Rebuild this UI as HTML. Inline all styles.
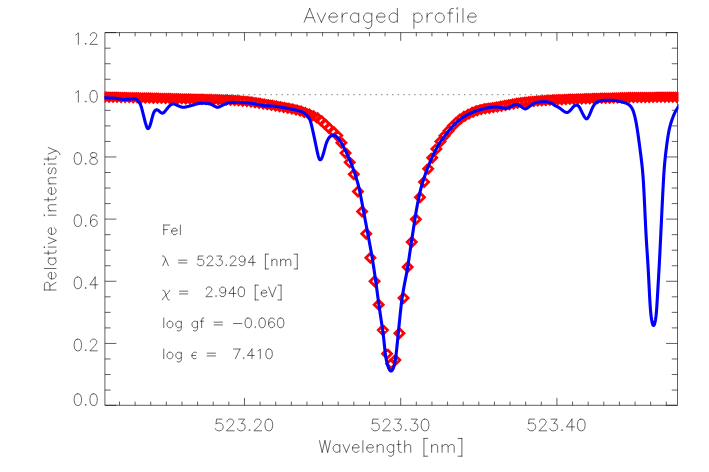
<!DOCTYPE html>
<html><head><meta charset="utf-8"><title>Averaged profile</title>
<style>
html,body{margin:0;padding:0;background:#fff;font-family:"Liberation Sans",sans-serif;}
svg{display:block;position:absolute;left:0;top:0;}
</style></head><body>
<svg width="709" height="472" viewBox="0 0 709 472">
<rect width="709" height="472" fill="#fff"/>
<defs><clipPath id="c"><rect x="104.4" y="32" width="574.1" height="374"/></clipPath></defs>
<g fill="none" stroke="#000" stroke-width="0.8" stroke-opacity="0.78" stroke-linecap="butt" stroke-linejoin="miter">
<path d="M104.90 32.60 H677.50 V405.30 H104.90 Z"/>
<path d="M119.47 405.30 v-3.73 M119.47 32.60 v3.73 M135.10 405.30 v-3.73 M135.10 32.60 v3.73 M150.72 405.30 v-3.73 M150.72 32.60 v3.73 M166.34 405.30 v-3.73 M166.34 32.60 v3.73 M181.97 405.30 v-3.73 M181.97 32.60 v3.73 M197.59 405.30 v-3.73 M197.59 32.60 v3.73 M213.21 405.30 v-3.73 M213.21 32.60 v3.73 M228.84 405.30 v-3.73 M228.84 32.60 v3.73 M244.46 405.30 v-7.45 M244.46 32.60 v8.20 M260.08 405.30 v-3.73 M260.08 32.60 v3.73 M275.71 405.30 v-3.73 M275.71 32.60 v3.73 M291.33 405.30 v-3.73 M291.33 32.60 v3.73 M306.95 405.30 v-3.73 M306.95 32.60 v3.73 M322.58 405.30 v-3.73 M322.58 32.60 v3.73 M338.20 405.30 v-3.73 M338.20 32.60 v3.73 M353.82 405.30 v-3.73 M353.82 32.60 v3.73 M369.45 405.30 v-3.73 M369.45 32.60 v3.73 M385.07 405.30 v-3.73 M385.07 32.60 v3.73 M400.69 405.30 v-7.45 M400.69 32.60 v8.20 M416.32 405.30 v-3.73 M416.32 32.60 v3.73 M431.94 405.30 v-3.73 M431.94 32.60 v3.73 M447.57 405.30 v-3.73 M447.57 32.60 v3.73 M463.19 405.30 v-3.73 M463.19 32.60 v3.73 M478.81 405.30 v-3.73 M478.81 32.60 v3.73 M494.44 405.30 v-3.73 M494.44 32.60 v3.73 M510.06 405.30 v-3.73 M510.06 32.60 v3.73 M525.68 405.30 v-3.73 M525.68 32.60 v3.73 M541.31 405.30 v-3.73 M541.31 32.60 v3.73 M556.93 405.30 v-7.45 M556.93 32.60 v8.20 M572.55 405.30 v-3.73 M572.55 32.60 v3.73 M588.18 405.30 v-3.73 M588.18 32.60 v3.73 M603.80 405.30 v-3.73 M603.80 32.60 v3.73 M619.42 405.30 v-3.73 M619.42 32.60 v3.73 M635.05 405.30 v-3.73 M635.05 32.60 v3.73 M650.67 405.30 v-3.73 M650.67 32.60 v3.73 M666.29 405.30 v-3.73 M666.29 32.60 v3.73 M104.90 390.06 h5.72 M677.50 390.06 h-5.72 M104.90 374.52 h5.72 M677.50 374.52 h-5.72 M104.90 358.98 h5.72 M677.50 358.98 h-5.72 M104.90 343.44 h11.45 M677.50 343.44 h-11.45 M104.90 327.90 h5.72 M677.50 327.90 h-5.72 M104.90 312.36 h5.72 M677.50 312.36 h-5.72 M104.90 296.82 h5.72 M677.50 296.82 h-5.72 M104.90 281.28 h11.45 M677.50 281.28 h-11.45 M104.90 265.74 h5.72 M677.50 265.74 h-5.72 M104.90 250.20 h5.72 M677.50 250.20 h-5.72 M104.90 234.66 h5.72 M677.50 234.66 h-5.72 M104.90 219.12 h11.45 M677.50 219.12 h-11.45 M104.90 203.58 h5.72 M677.50 203.58 h-5.72 M104.90 188.04 h5.72 M677.50 188.04 h-5.72 M104.90 172.50 h5.72 M677.50 172.50 h-5.72 M104.90 156.96 h11.45 M677.50 156.96 h-11.45 M104.90 141.42 h5.72 M677.50 141.42 h-5.72 M104.90 125.88 h5.72 M677.50 125.88 h-5.72 M104.90 110.34 h5.72 M677.50 110.34 h-5.72 M104.90 94.80 h11.45 M677.50 94.80 h-11.45 M104.90 79.26 h5.72 M677.50 79.26 h-5.72 M104.90 63.72 h5.72 M677.50 63.72 h-5.72 M104.90 48.18 h5.72 M677.50 48.18 h-5.72 M104.90 32.60 h11.45 M677.50 32.60 h-11.45 M104.90 405.30 h11.45 M677.50 405.30 h-11.45"/>
</g>
<path d="M104.5 94.70 H677.5" fill="none" stroke="#000" stroke-opacity="0.55" stroke-width="0.9" stroke-dasharray="1.5 4.03"/>
<g clip-path="url(#c)" fill="none">
<path d="M105.10 92.10 l4.50 4.50 l-4.50 4.50 l-4.50 -4.50 l4.50 -4.50 M109.11 92.19 l4.50 4.50 l-4.50 4.50 l-4.50 -4.50 l4.50 -4.50 M113.13 92.28 l4.50 4.50 l-4.50 4.50 l-4.50 -4.50 l4.50 -4.50 M117.15 92.36 l4.50 4.50 l-4.50 4.50 l-4.50 -4.50 l4.50 -4.50 M121.17 92.45 l4.50 4.50 l-4.50 4.50 l-4.50 -4.50 l4.50 -4.50 M125.19 92.54 l4.50 4.50 l-4.50 4.50 l-4.50 -4.50 l4.50 -4.50 M129.21 92.63 l4.50 4.50 l-4.50 4.50 l-4.50 -4.50 l4.50 -4.50 M133.24 92.72 l4.50 4.50 l-4.50 4.50 l-4.50 -4.50 l4.50 -4.50 M137.27 92.81 l4.50 4.50 l-4.50 4.50 l-4.50 -4.50 l4.50 -4.50 M141.30 92.91 l4.50 4.50 l-4.50 4.50 l-4.50 -4.50 l4.50 -4.50 M145.33 93.00 l4.50 4.50 l-4.50 4.50 l-4.50 -4.50 l4.50 -4.50 M149.36 93.10 l4.50 4.50 l-4.50 4.50 l-4.50 -4.50 l4.50 -4.50 M153.40 93.19 l4.50 4.50 l-4.50 4.50 l-4.50 -4.50 l4.50 -4.50 M157.44 93.29 l4.50 4.50 l-4.50 4.50 l-4.50 -4.50 l4.50 -4.50 M161.48 93.39 l4.50 4.50 l-4.50 4.50 l-4.50 -4.50 l4.50 -4.50 M165.52 93.49 l4.50 4.50 l-4.50 4.50 l-4.50 -4.50 l4.50 -4.50 M169.57 93.59 l4.50 4.50 l-4.50 4.50 l-4.50 -4.50 l4.50 -4.50 M173.62 93.69 l4.50 4.50 l-4.50 4.50 l-4.50 -4.50 l4.50 -4.50 M177.67 93.78 l4.50 4.50 l-4.50 4.50 l-4.50 -4.50 l4.50 -4.50 M181.72 93.87 l4.50 4.50 l-4.50 4.50 l-4.50 -4.50 l4.50 -4.50 M185.77 93.95 l4.50 4.50 l-4.50 4.50 l-4.50 -4.50 l4.50 -4.50 M189.83 94.04 l4.50 4.50 l-4.50 4.50 l-4.50 -4.50 l4.50 -4.50 M193.89 94.13 l4.50 4.50 l-4.50 4.50 l-4.50 -4.50 l4.50 -4.50 M197.95 94.21 l4.50 4.50 l-4.50 4.50 l-4.50 -4.50 l4.50 -4.50 M202.01 94.31 l4.50 4.50 l-4.50 4.50 l-4.50 -4.50 l4.50 -4.50 M206.07 94.41 l4.50 4.50 l-4.50 4.50 l-4.50 -4.50 l4.50 -4.50 M210.14 94.51 l4.50 4.50 l-4.50 4.50 l-4.50 -4.50 l4.50 -4.50 M214.21 94.63 l4.50 4.50 l-4.50 4.50 l-4.50 -4.50 l4.50 -4.50 M218.28 94.76 l4.50 4.50 l-4.50 4.50 l-4.50 -4.50 l4.50 -4.50 M222.35 94.90 l4.50 4.50 l-4.50 4.50 l-4.50 -4.50 l4.50 -4.50 M226.43 95.06 l4.50 4.50 l-4.50 4.50 l-4.50 -4.50 l4.50 -4.50 M230.51 95.23 l4.50 4.50 l-4.50 4.50 l-4.50 -4.50 l4.50 -4.50 M234.59 95.45 l4.50 4.50 l-4.50 4.50 l-4.50 -4.50 l4.50 -4.50 M238.67 95.76 l4.50 4.50 l-4.50 4.50 l-4.50 -4.50 l4.50 -4.50 M242.75 96.15 l4.50 4.50 l-4.50 4.50 l-4.50 -4.50 l4.50 -4.50 M246.84 96.58 l4.50 4.50 l-4.50 4.50 l-4.50 -4.50 l4.50 -4.50 M250.93 97.08 l4.50 4.50 l-4.50 4.50 l-4.50 -4.50 l4.50 -4.50 M255.02 97.67 l4.50 4.50 l-4.50 4.50 l-4.50 -4.50 l4.50 -4.50 M259.11 98.31 l4.50 4.50 l-4.50 4.50 l-4.50 -4.50 l4.50 -4.50 M263.20 98.97 l4.50 4.50 l-4.50 4.50 l-4.50 -4.50 l4.50 -4.50 M267.30 99.63 l4.50 4.50 l-4.50 4.50 l-4.50 -4.50 l4.50 -4.50 M271.40 100.30 l4.50 4.50 l-4.50 4.50 l-4.50 -4.50 l4.50 -4.50 M275.50 101.01 l4.50 4.50 l-4.50 4.50 l-4.50 -4.50 l4.50 -4.50 M279.60 101.74 l4.50 4.50 l-4.50 4.50 l-4.50 -4.50 l4.50 -4.50 M283.71 102.50 l4.50 4.50 l-4.50 4.50 l-4.50 -4.50 l4.50 -4.50 M287.82 103.25 l4.50 4.50 l-4.50 4.50 l-4.50 -4.50 l4.50 -4.50 M291.93 104.06 l4.50 4.50 l-4.50 4.50 l-4.50 -4.50 l4.50 -4.50 M296.04 104.99 l4.50 4.50 l-4.50 4.50 l-4.50 -4.50 l4.50 -4.50 M300.15 106.10 l4.50 4.50 l-4.50 4.50 l-4.50 -4.50 l4.50 -4.50 M304.27 107.40 l4.50 4.50 l-4.50 4.50 l-4.50 -4.50 l4.50 -4.50 M308.39 108.92 l4.50 4.50 l-4.50 4.50 l-4.50 -4.50 l4.50 -4.50 M312.51 110.72 l4.50 4.50 l-4.50 4.50 l-4.50 -4.50 l4.50 -4.50 M316.63 112.82 l4.50 4.50 l-4.50 4.50 l-4.50 -4.50 l4.50 -4.50 M320.75 115.71 l4.50 4.50 l-4.50 4.50 l-4.50 -4.50 l4.50 -4.50 M324.88 119.61 l4.50 4.50 l-4.50 4.50 l-4.50 -4.50 l4.50 -4.50 M329.01 123.41 l4.50 4.50 l-4.50 4.50 l-4.50 -4.50 l4.50 -4.50 M333.14 127.11 l4.50 4.50 l-4.50 4.50 l-4.50 -4.50 l4.50 -4.50 M337.27 131.12 l4.50 4.50 l-4.50 4.50 l-4.50 -4.50 l4.50 -4.50 M341.41 138.18 l4.50 4.50 l-4.50 4.50 l-4.50 -4.50 l4.50 -4.50 M345.55 148.58 l4.50 4.50 l-4.50 4.50 l-4.50 -4.50 l4.50 -4.50 M349.69 157.87 l4.50 4.50 l-4.50 4.50 l-4.50 -4.50 l4.50 -4.50 M353.83 169.68 l4.50 4.50 l-4.50 4.50 l-4.50 -4.50 l4.50 -4.50 M357.97 186.91 l4.50 4.50 l-4.50 4.50 l-4.50 -4.50 l4.50 -4.50 M362.12 206.99 l4.50 4.50 l-4.50 4.50 l-4.50 -4.50 l4.50 -4.50 M366.27 229.26 l4.50 4.50 l-4.50 4.50 l-4.50 -4.50 l4.50 -4.50 M370.42 253.24 l4.50 4.50 l-4.50 4.50 l-4.50 -4.50 l4.50 -4.50 M374.57 276.79 l4.50 4.50 l-4.50 4.50 l-4.50 -4.50 l4.50 -4.50 M378.72 300.14 l4.50 4.50 l-4.50 4.50 l-4.50 -4.50 l4.50 -4.50 M382.88 325.58 l4.50 4.50 l-4.50 4.50 l-4.50 -4.50 l4.50 -4.50 M387.04 349.24 l4.50 4.50 l-4.50 4.50 l-4.50 -4.50 l4.50 -4.50 M391.20 359.30 l4.50 4.50 l-4.50 4.50 l-4.50 -4.50 l4.50 -4.50 M395.32 355.59 l4.50 4.50 l-4.50 4.50 l-4.50 -4.50 l4.50 -4.50 M399.44 328.65 l4.50 4.50 l-4.50 4.50 l-4.50 -4.50 l4.50 -4.50 M403.55 293.49 l4.50 4.50 l-4.50 4.50 l-4.50 -4.50 l4.50 -4.50 M407.66 262.45 l4.50 4.50 l-4.50 4.50 l-4.50 -4.50 l4.50 -4.50 M411.77 237.58 l4.50 4.50 l-4.50 4.50 l-4.50 -4.50 l4.50 -4.50 M415.87 214.69 l4.50 4.50 l-4.50 4.50 l-4.50 -4.50 l4.50 -4.50 M419.98 192.78 l4.50 4.50 l-4.50 4.50 l-4.50 -4.50 l4.50 -4.50 M424.08 177.53 l4.50 4.50 l-4.50 4.50 l-4.50 -4.50 l4.50 -4.50 M428.17 164.18 l4.50 4.50 l-4.50 4.50 l-4.50 -4.50 l4.50 -4.50 M432.27 153.20 l4.50 4.50 l-4.50 4.50 l-4.50 -4.50 l4.50 -4.50 M436.36 144.38 l4.50 4.50 l-4.50 4.50 l-4.50 -4.50 l4.50 -4.50 M440.45 136.94 l4.50 4.50 l-4.50 4.50 l-4.50 -4.50 l4.50 -4.50 M444.53 131.15 l4.50 4.50 l-4.50 4.50 l-4.50 -4.50 l4.50 -4.50 M448.62 126.20 l4.50 4.50 l-4.50 4.50 l-4.50 -4.50 l4.50 -4.50 M452.70 121.47 l4.50 4.50 l-4.50 4.50 l-4.50 -4.50 l4.50 -4.50 M456.77 117.43 l4.50 4.50 l-4.50 4.50 l-4.50 -4.50 l4.50 -4.50 M460.85 114.06 l4.50 4.50 l-4.50 4.50 l-4.50 -4.50 l4.50 -4.50 M464.92 111.31 l4.50 4.50 l-4.50 4.50 l-4.50 -4.50 l4.50 -4.50 M468.99 109.13 l4.50 4.50 l-4.50 4.50 l-4.50 -4.50 l4.50 -4.50 M473.06 107.34 l4.50 4.50 l-4.50 4.50 l-4.50 -4.50 l4.50 -4.50 M477.12 105.86 l4.50 4.50 l-4.50 4.50 l-4.50 -4.50 l4.50 -4.50 M481.18 104.62 l4.50 4.50 l-4.50 4.50 l-4.50 -4.50 l4.50 -4.50 M485.24 103.82 l4.50 4.50 l-4.50 4.50 l-4.50 -4.50 l4.50 -4.50 M489.29 103.21 l4.50 4.50 l-4.50 4.50 l-4.50 -4.50 l4.50 -4.50 M493.34 102.63 l4.50 4.50 l-4.50 4.50 l-4.50 -4.50 l4.50 -4.50 M497.39 102.07 l4.50 4.50 l-4.50 4.50 l-4.50 -4.50 l4.50 -4.50 M501.44 101.26 l4.50 4.50 l-4.50 4.50 l-4.50 -4.50 l4.50 -4.50 M505.48 100.42 l4.50 4.50 l-4.50 4.50 l-4.50 -4.50 l4.50 -4.50 M509.52 99.65 l4.50 4.50 l-4.50 4.50 l-4.50 -4.50 l4.50 -4.50 M513.56 98.94 l4.50 4.50 l-4.50 4.50 l-4.50 -4.50 l4.50 -4.50 M517.60 98.27 l4.50 4.50 l-4.50 4.50 l-4.50 -4.50 l4.50 -4.50 M521.63 97.64 l4.50 4.50 l-4.50 4.50 l-4.50 -4.50 l4.50 -4.50 M525.66 97.14 l4.50 4.50 l-4.50 4.50 l-4.50 -4.50 l4.50 -4.50 M529.69 96.75 l4.50 4.50 l-4.50 4.50 l-4.50 -4.50 l4.50 -4.50 M533.71 96.41 l4.50 4.50 l-4.50 4.50 l-4.50 -4.50 l4.50 -4.50 M537.73 96.10 l4.50 4.50 l-4.50 4.50 l-4.50 -4.50 l4.50 -4.50 M541.75 95.80 l4.50 4.50 l-4.50 4.50 l-4.50 -4.50 l4.50 -4.50 M545.77 95.52 l4.50 4.50 l-4.50 4.50 l-4.50 -4.50 l4.50 -4.50 M549.78 95.28 l4.50 4.50 l-4.50 4.50 l-4.50 -4.50 l4.50 -4.50 M553.79 95.05 l4.50 4.50 l-4.50 4.50 l-4.50 -4.50 l4.50 -4.50 M557.79 94.86 l4.50 4.50 l-4.50 4.50 l-4.50 -4.50 l4.50 -4.50 M561.80 94.68 l4.50 4.50 l-4.50 4.50 l-4.50 -4.50 l4.50 -4.50 M565.80 94.51 l4.50 4.50 l-4.50 4.50 l-4.50 -4.50 l4.50 -4.50 M569.80 94.36 l4.50 4.50 l-4.50 4.50 l-4.50 -4.50 l4.50 -4.50 M573.79 94.21 l4.50 4.50 l-4.50 4.50 l-4.50 -4.50 l4.50 -4.50 M577.79 94.07 l4.50 4.50 l-4.50 4.50 l-4.50 -4.50 l4.50 -4.50 M581.78 93.94 l4.50 4.50 l-4.50 4.50 l-4.50 -4.50 l4.50 -4.50 M585.77 93.81 l4.50 4.50 l-4.50 4.50 l-4.50 -4.50 l4.50 -4.50 M589.75 93.68 l4.50 4.50 l-4.50 4.50 l-4.50 -4.50 l4.50 -4.50 M593.73 93.56 l4.50 4.50 l-4.50 4.50 l-4.50 -4.50 l4.50 -4.50 M597.71 93.46 l4.50 4.50 l-4.50 4.50 l-4.50 -4.50 l4.50 -4.50 M601.69 93.36 l4.50 4.50 l-4.50 4.50 l-4.50 -4.50 l4.50 -4.50 M605.66 93.29 l4.50 4.50 l-4.50 4.50 l-4.50 -4.50 l4.50 -4.50 M609.63 93.21 l4.50 4.50 l-4.50 4.50 l-4.50 -4.50 l4.50 -4.50 M613.60 93.09 l4.50 4.50 l-4.50 4.50 l-4.50 -4.50 l4.50 -4.50 M617.56 92.95 l4.50 4.50 l-4.50 4.50 l-4.50 -4.50 l4.50 -4.50 M621.53 92.80 l4.50 4.50 l-4.50 4.50 l-4.50 -4.50 l4.50 -4.50 M625.48 92.67 l4.50 4.50 l-4.50 4.50 l-4.50 -4.50 l4.50 -4.50 M629.44 92.59 l4.50 4.50 l-4.50 4.50 l-4.50 -4.50 l4.50 -4.50 M633.40 92.54 l4.50 4.50 l-4.50 4.50 l-4.50 -4.50 l4.50 -4.50 M637.35 92.50 l4.50 4.50 l-4.50 4.50 l-4.50 -4.50 l4.50 -4.50 M641.29 92.46 l4.50 4.50 l-4.50 4.50 l-4.50 -4.50 l4.50 -4.50 M645.24 92.43 l4.50 4.50 l-4.50 4.50 l-4.50 -4.50 l4.50 -4.50 M649.18 92.41 l4.50 4.50 l-4.50 4.50 l-4.50 -4.50 l4.50 -4.50 M653.12 92.38 l4.50 4.50 l-4.50 4.50 l-4.50 -4.50 l4.50 -4.50 M657.06 92.36 l4.50 4.50 l-4.50 4.50 l-4.50 -4.50 l4.50 -4.50 M660.99 92.35 l4.50 4.50 l-4.50 4.50 l-4.50 -4.50 l4.50 -4.50 M664.92 92.33 l4.50 4.50 l-4.50 4.50 l-4.50 -4.50 l4.50 -4.50 M668.85 92.32 l4.50 4.50 l-4.50 4.50 l-4.50 -4.50 l4.50 -4.50 M672.78 92.30 l4.50 4.50 l-4.50 4.50 l-4.50 -4.50 l4.50 -4.50 M676.70 92.30 l4.50 4.50 l-4.50 4.50 l-4.50 -4.50 l4.50 -4.50 M680.63 92.30 l4.50 4.50 l-4.50 4.50 l-4.50 -4.50 l4.50 -4.50" stroke="#ff0000" stroke-width="2.8" stroke-linejoin="miter" stroke-linecap="butt"/>
<path d="M100.00 97.70 L100.25 97.70 L100.50 97.71 L100.75 97.71 L101.00 97.71 L101.25 97.72 L101.50 97.72 L101.75 97.73 L102.00 97.73 L102.25 97.74 L102.50 97.74 L102.75 97.75 L103.00 97.75 L103.25 97.76 L103.50 97.77 L103.75 97.77 L104.00 97.78 L104.25 97.78 L104.50 97.79 L104.75 97.80 L105.00 97.80 L105.25 97.81 L105.50 97.82 L105.75 97.82 L106.00 97.83 L106.25 97.84 L106.50 97.85 L106.75 97.85 L107.00 97.86 L107.25 97.87 L107.50 97.88 L107.75 97.89 L108.00 97.90 L108.25 97.91 L108.50 97.92 L108.75 97.93 L109.00 97.94 L109.25 97.95 L109.50 97.96 L109.75 97.97 L110.00 97.98 L110.25 97.99 L110.50 98.00 L110.75 98.01 L111.00 98.02 L111.25 98.03 L111.50 98.04 L111.75 98.05 L112.00 98.07 L112.25 98.08 L112.50 98.09 L112.75 98.10 L113.00 98.11 L113.25 98.13 L113.50 98.14 L113.75 98.15 L114.00 98.16 L114.25 98.17 L114.50 98.19 L114.75 98.20 L115.00 98.22 L115.25 98.24 L115.50 98.26 L115.75 98.28 L116.00 98.31 L116.25 98.34 L116.50 98.37 L116.75 98.41 L117.00 98.44 L117.25 98.48 L117.50 98.52 L117.75 98.57 L118.00 98.61 L118.25 98.66 L118.50 98.70 L118.75 98.75 L119.00 98.80 L119.25 98.84 L119.50 98.89 L119.75 98.94 L120.00 98.99 L120.25 99.03 L120.50 99.08 L120.75 99.12 L121.00 99.16 L121.25 99.20 L121.50 99.24 L121.75 99.28 L122.00 99.32 L122.25 99.35 L122.50 99.38 L122.75 99.41 L123.00 99.43 L123.25 99.45 L123.50 99.47 L123.75 99.48 L124.00 99.49 L124.25 99.49 L124.50 99.49 L124.75 99.49 L125.00 99.48 L125.25 99.48 L125.50 99.47 L125.75 99.45 L126.00 99.44 L126.25 99.42 L126.50 99.41 L126.75 99.39 L127.00 99.37 L127.25 99.35 L127.50 99.33 L127.75 99.30 L128.00 99.28 L128.25 99.26 L128.50 99.24 L128.75 99.21 L129.00 99.19 L129.25 99.17 L129.50 99.15 L129.75 99.12 L130.00 99.10 L130.25 99.08 L130.50 99.05 L130.75 99.03 L131.00 99.00 L131.25 98.97 L131.50 98.95 L131.75 98.92 L132.00 98.89 L132.25 98.86 L132.50 98.84 L132.75 98.81 L133.00 98.78 L133.25 98.76 L133.50 98.74 L133.75 98.73 L134.00 98.72 L134.25 98.73 L134.50 98.75 L134.75 98.78 L135.00 98.82 L135.25 98.88 L135.50 98.95 L135.75 99.03 L136.00 99.12 L136.25 99.23 L136.50 99.36 L136.75 99.51 L137.00 99.68 L137.25 99.88 L137.50 100.11 L137.75 100.36 L138.00 100.64 L138.25 100.94 L138.50 101.27 L138.75 101.62 L139.00 101.99 L139.25 102.38 L139.50 102.80 L139.75 103.23 L140.00 103.68 L140.25 104.16 L140.50 104.68 L140.75 105.26 L141.00 105.93 L141.25 106.69 L141.50 107.54 L141.75 108.47 L142.00 109.44 L142.25 110.45 L142.50 111.47 L142.75 112.48 L143.00 113.49 L143.25 114.49 L143.50 115.49 L143.75 116.48 L144.00 117.46 L144.25 118.44 L144.50 119.41 L144.75 120.37 L145.00 121.31 L145.25 122.24 L145.50 123.14 L145.75 124.01 L146.00 124.84 L146.25 125.62 L146.50 126.33 L146.75 126.96 L147.00 127.50 L147.25 127.94 L147.50 128.26 L147.75 128.48 L148.00 128.59 L148.25 128.57 L148.50 128.45 L148.75 128.21 L149.00 127.85 L149.25 127.39 L149.50 126.83 L149.75 126.20 L150.00 125.50 L150.25 124.75 L150.50 123.95 L150.75 123.13 L151.00 122.27 L151.25 121.37 L151.50 120.43 L151.75 119.46 L152.00 118.46 L152.25 117.48 L152.50 116.52 L152.75 115.61 L153.00 114.77 L153.25 114.01 L153.50 113.33 L153.75 112.72 L154.00 112.18 L154.25 111.70 L154.50 111.29 L154.75 110.94 L155.00 110.64 L155.25 110.39 L155.50 110.19 L155.75 110.03 L156.00 109.91 L156.25 109.84 L156.50 109.80 L156.75 109.81 L157.00 109.84 L157.25 109.90 L157.50 109.99 L157.75 110.10 L158.00 110.23 L158.25 110.39 L158.50 110.56 L158.75 110.75 L159.00 110.96 L159.25 111.17 L159.50 111.40 L159.75 111.62 L160.00 111.84 L160.25 112.05 L160.50 112.25 L160.75 112.43 L161.00 112.60 L161.25 112.74 L161.50 112.87 L161.75 112.97 L162.00 113.04 L162.25 113.09 L162.50 113.11 L162.75 113.09 L163.00 113.04 L163.25 112.95 L163.50 112.81 L163.75 112.64 L164.00 112.42 L164.25 112.18 L164.50 111.90 L164.75 111.61 L165.00 111.31 L165.25 111.00 L165.50 110.68 L165.75 110.37 L166.00 110.05 L166.25 109.74 L166.50 109.43 L166.75 109.11 L167.00 108.80 L167.25 108.49 L167.50 108.18 L167.75 107.87 L168.00 107.56 L168.25 107.27 L168.50 106.97 L168.75 106.69 L169.00 106.43 L169.25 106.17 L169.50 105.92 L169.75 105.68 L170.00 105.46 L170.25 105.24 L170.50 105.03 L170.75 104.84 L171.00 104.66 L171.25 104.50 L171.50 104.36 L171.75 104.24 L172.00 104.14 L172.25 104.06 L172.50 104.00 L172.75 103.97 L173.00 103.95 L173.25 103.95 L173.50 103.96 L173.75 103.99 L174.00 104.03 L174.25 104.09 L174.50 104.15 L174.75 104.23 L175.00 104.31 L175.25 104.41 L175.50 104.51 L175.75 104.62 L176.00 104.73 L176.25 104.85 L176.50 104.98 L176.75 105.10 L177.00 105.23 L177.25 105.35 L177.50 105.46 L177.75 105.58 L178.00 105.69 L178.25 105.80 L178.50 105.91 L178.75 106.01 L179.00 106.12 L179.25 106.22 L179.50 106.33 L179.75 106.43 L180.00 106.53 L180.25 106.63 L180.50 106.72 L180.75 106.81 L181.00 106.89 L181.25 106.97 L181.50 107.04 L181.75 107.10 L182.00 107.16 L182.25 107.21 L182.50 107.25 L182.75 107.28 L183.00 107.29 L183.25 107.30 L183.50 107.30 L183.75 107.29 L184.00 107.27 L184.25 107.24 L184.50 107.21 L184.75 107.17 L185.00 107.13 L185.25 107.08 L185.50 107.04 L185.75 106.99 L186.00 106.94 L186.25 106.88 L186.50 106.83 L186.75 106.77 L187.00 106.71 L187.25 106.65 L187.50 106.59 L187.75 106.52 L188.00 106.46 L188.25 106.39 L188.50 106.33 L188.75 106.26 L189.00 106.19 L189.25 106.12 L189.50 106.06 L189.75 105.99 L190.00 105.92 L190.25 105.85 L190.50 105.78 L190.75 105.71 L191.00 105.64 L191.25 105.57 L191.50 105.50 L191.75 105.43 L192.00 105.36 L192.25 105.28 L192.50 105.21 L192.75 105.13 L193.00 105.05 L193.25 104.98 L193.50 104.90 L193.75 104.82 L194.00 104.75 L194.25 104.67 L194.50 104.59 L194.75 104.52 L195.00 104.44 L195.25 104.37 L195.50 104.29 L195.75 104.22 L196.00 104.15 L196.25 104.08 L196.50 104.01 L196.75 103.94 L197.00 103.88 L197.25 103.82 L197.50 103.76 L197.75 103.70 L198.00 103.64 L198.25 103.59 L198.50 103.55 L198.75 103.51 L199.00 103.47 L199.25 103.44 L199.50 103.41 L199.75 103.38 L200.00 103.36 L200.25 103.34 L200.50 103.32 L200.75 103.31 L201.00 103.29 L201.25 103.29 L201.50 103.28 L201.75 103.27 L202.00 103.27 L202.25 103.27 L202.50 103.27 L202.75 103.27 L203.00 103.27 L203.25 103.28 L203.50 103.28 L203.75 103.28 L204.00 103.29 L204.25 103.29 L204.50 103.30 L204.75 103.30 L205.00 103.31 L205.25 103.32 L205.50 103.33 L205.75 103.34 L206.00 103.36 L206.25 103.37 L206.50 103.39 L206.75 103.42 L207.00 103.44 L207.25 103.47 L207.50 103.50 L207.75 103.53 L208.00 103.57 L208.25 103.60 L208.50 103.65 L208.75 103.69 L209.00 103.74 L209.25 103.79 L209.50 103.84 L209.75 103.90 L210.00 103.96 L210.25 104.02 L210.50 104.09 L210.75 104.17 L211.00 104.26 L211.25 104.36 L211.50 104.47 L211.75 104.59 L212.00 104.72 L212.25 104.86 L212.50 105.00 L212.75 105.15 L213.00 105.30 L213.25 105.45 L213.50 105.61 L213.75 105.76 L214.00 105.91 L214.25 106.05 L214.50 106.19 L214.75 106.33 L215.00 106.45 L215.25 106.57 L215.50 106.68 L215.75 106.79 L216.00 106.89 L216.25 106.98 L216.50 107.07 L216.75 107.14 L217.00 107.20 L217.25 107.25 L217.50 107.27 L217.75 107.28 L218.00 107.25 L218.25 107.21 L218.50 107.14 L218.75 107.06 L219.00 106.96 L219.25 106.85 L219.50 106.74 L219.75 106.62 L220.00 106.50 L220.25 106.37 L220.50 106.24 L220.75 106.12 L221.00 105.99 L221.25 105.86 L221.50 105.74 L221.75 105.62 L222.00 105.49 L222.25 105.37 L222.50 105.26 L222.75 105.14 L223.00 105.02 L223.25 104.91 L223.50 104.79 L223.75 104.67 L224.00 104.56 L224.25 104.44 L224.50 104.33 L224.75 104.21 L225.00 104.10 L225.25 103.99 L225.50 103.88 L225.75 103.77 L226.00 103.66 L226.25 103.56 L226.50 103.45 L226.75 103.36 L227.00 103.26 L227.25 103.17 L227.50 103.08 L227.75 103.00 L228.00 102.92 L228.25 102.85 L228.50 102.79 L228.75 102.73 L229.00 102.68 L229.25 102.63 L229.50 102.59 L229.75 102.55 L230.00 102.52 L230.25 102.49 L230.50 102.47 L230.75 102.45 L231.00 102.44 L231.25 102.42 L231.50 102.41 L231.75 102.41 L232.00 102.40 L232.25 102.40 L232.50 102.40 L232.75 102.40 L233.00 102.40 L233.25 102.40 L233.50 102.41 L233.75 102.41 L234.00 102.41 L234.25 102.42 L234.50 102.42 L234.75 102.43 L235.00 102.43 L235.25 102.43 L235.50 102.44 L235.75 102.44 L236.00 102.45 L236.25 102.45 L236.50 102.46 L236.75 102.46 L237.00 102.47 L237.25 102.48 L237.50 102.48 L237.75 102.49 L238.00 102.49 L238.25 102.50 L238.50 102.51 L238.75 102.52 L239.00 102.52 L239.25 102.53 L239.50 102.54 L239.75 102.54 L240.00 102.55 L240.25 102.56 L240.50 102.57 L240.75 102.57 L241.00 102.58 L241.25 102.59 L241.50 102.60 L241.75 102.60 L242.00 102.61 L242.25 102.62 L242.50 102.63 L242.75 102.63 L243.00 102.64 L243.25 102.65 L243.50 102.66 L243.75 102.67 L244.00 102.68 L244.25 102.69 L244.50 102.70 L244.75 102.71 L245.00 102.71 L245.25 102.72 L245.50 102.73 L245.75 102.75 L246.00 102.76 L246.25 102.77 L246.50 102.78 L246.75 102.79 L247.00 102.80 L247.25 102.82 L247.50 102.83 L247.75 102.85 L248.00 102.86 L248.25 102.88 L248.50 102.90 L248.75 102.92 L249.00 102.95 L249.25 102.97 L249.50 103.00 L249.75 103.02 L250.00 103.05 L250.25 103.08 L250.50 103.11 L250.75 103.14 L251.00 103.17 L251.25 103.21 L251.50 103.24 L251.75 103.28 L252.00 103.31 L252.25 103.35 L252.50 103.39 L252.75 103.42 L253.00 103.46 L253.25 103.50 L253.50 103.54 L253.75 103.59 L254.00 103.63 L254.25 103.67 L254.50 103.71 L254.75 103.76 L255.00 103.80 L255.25 103.85 L255.50 103.90 L255.75 103.94 L256.00 103.99 L256.25 104.04 L256.50 104.10 L256.75 104.15 L257.00 104.20 L257.25 104.26 L257.50 104.31 L257.75 104.37 L258.00 104.43 L258.25 104.48 L258.50 104.54 L258.75 104.60 L259.00 104.65 L259.25 104.71 L259.50 104.77 L259.75 104.82 L260.00 104.88 L260.25 104.93 L260.50 104.99 L260.75 105.04 L261.00 105.10 L261.25 105.15 L261.50 105.20 L261.75 105.25 L262.00 105.30 L262.25 105.35 L262.50 105.39 L262.75 105.44 L263.00 105.49 L263.25 105.53 L263.50 105.57 L263.75 105.62 L264.00 105.66 L264.25 105.70 L264.50 105.73 L264.75 105.77 L265.00 105.80 L265.25 105.82 L265.50 105.85 L265.75 105.87 L266.00 105.89 L266.25 105.90 L266.50 105.91 L266.75 105.92 L267.00 105.92 L267.25 105.92 L267.50 105.92 L267.75 105.92 L268.00 105.92 L268.25 105.91 L268.50 105.91 L268.75 105.90 L269.00 105.90 L269.25 105.90 L269.50 105.90 L269.75 105.90 L270.00 105.90 L270.25 105.91 L270.50 105.91 L270.75 105.92 L271.00 105.92 L271.25 105.93 L271.50 105.94 L271.75 105.95 L272.00 105.96 L272.25 105.97 L272.50 105.98 L272.75 105.99 L273.00 106.01 L273.25 106.03 L273.50 106.05 L273.75 106.08 L274.00 106.11 L274.25 106.14 L274.50 106.17 L274.75 106.20 L275.00 106.23 L275.25 106.27 L275.50 106.31 L275.75 106.34 L276.00 106.38 L276.25 106.42 L276.50 106.45 L276.75 106.49 L277.00 106.53 L277.25 106.57 L277.50 106.61 L277.75 106.65 L278.00 106.69 L278.25 106.73 L278.50 106.78 L278.75 106.82 L279.00 106.86 L279.25 106.90 L279.50 106.94 L279.75 106.99 L280.00 107.03 L280.25 107.07 L280.50 107.11 L280.75 107.16 L281.00 107.20 L281.25 107.24 L281.50 107.29 L281.75 107.33 L282.00 107.37 L282.25 107.42 L282.50 107.46 L282.75 107.50 L283.00 107.55 L283.25 107.59 L283.50 107.63 L283.75 107.68 L284.00 107.72 L284.25 107.76 L284.50 107.81 L284.75 107.85 L285.00 107.90 L285.25 107.94 L285.50 107.99 L285.75 108.03 L286.00 108.07 L286.25 108.12 L286.50 108.16 L286.75 108.21 L287.00 108.25 L287.25 108.30 L287.50 108.34 L287.75 108.39 L288.00 108.43 L288.25 108.48 L288.50 108.52 L288.75 108.57 L289.00 108.62 L289.25 108.66 L289.50 108.71 L289.75 108.75 L290.00 108.80 L290.25 108.85 L290.50 108.90 L290.75 108.95 L291.00 109.00 L291.25 109.05 L291.50 109.10 L291.75 109.15 L292.00 109.20 L292.25 109.26 L292.50 109.31 L292.75 109.37 L293.00 109.42 L293.25 109.48 L293.50 109.53 L293.75 109.59 L294.00 109.65 L294.25 109.71 L294.50 109.77 L294.75 109.82 L295.00 109.88 L295.25 109.94 L295.50 110.00 L295.75 110.06 L296.00 110.12 L296.25 110.18 L296.50 110.24 L296.75 110.30 L297.00 110.36 L297.25 110.42 L297.50 110.48 L297.75 110.54 L298.00 110.60 L298.25 110.67 L298.50 110.73 L298.75 110.80 L299.00 110.87 L299.25 110.95 L299.50 111.02 L299.75 111.10 L300.00 111.19 L300.25 111.27 L300.50 111.36 L300.75 111.45 L301.00 111.54 L301.25 111.63 L301.50 111.72 L301.75 111.82 L302.00 111.91 L302.25 112.01 L302.50 112.11 L302.75 112.22 L303.00 112.33 L303.25 112.45 L303.50 112.59 L303.75 112.74 L304.00 112.90 L304.25 113.08 L304.50 113.27 L304.75 113.46 L305.00 113.66 L305.25 113.87 L305.50 114.08 L305.75 114.29 L306.00 114.49 L306.25 114.70 L306.50 114.92 L306.75 115.13 L307.00 115.35 L307.25 115.59 L307.50 115.84 L307.75 116.11 L308.00 116.41 L308.25 116.73 L308.50 117.08 L308.75 117.48 L309.00 117.91 L309.25 118.39 L309.50 118.91 L309.75 119.49 L310.00 120.13 L310.25 120.82 L310.50 121.58 L310.75 122.39 L311.00 123.26 L311.25 124.18 L311.50 125.15 L311.75 126.16 L312.00 127.21 L312.25 128.28 L312.50 129.38 L312.75 130.50 L313.00 131.63 L313.25 132.77 L313.50 133.92 L313.75 135.06 L314.00 136.22 L314.25 137.38 L314.50 138.55 L314.75 139.73 L315.00 140.92 L315.25 142.12 L315.50 143.33 L315.75 144.55 L316.00 145.76 L316.25 146.98 L316.50 148.18 L316.75 149.38 L317.00 150.56 L317.25 151.71 L317.50 152.83 L317.75 153.90 L318.00 154.92 L318.25 155.87 L318.50 156.74 L318.75 157.52 L319.00 158.19 L319.25 158.76 L319.50 159.20 L319.75 159.53 L320.00 159.73 L320.25 159.81 L320.50 159.78 L320.75 159.63 L321.00 159.39 L321.25 159.05 L321.50 158.64 L321.75 158.15 L322.00 157.59 L322.25 156.98 L322.50 156.32 L322.75 155.61 L323.00 154.86 L323.25 154.06 L323.50 153.22 L323.75 152.34 L324.00 151.42 L324.25 150.48 L324.50 149.53 L324.75 148.57 L325.00 147.63 L325.25 146.70 L325.50 145.80 L325.75 144.94 L326.00 144.13 L326.25 143.37 L326.50 142.67 L326.75 142.03 L327.00 141.43 L327.25 140.87 L327.50 140.35 L327.75 139.86 L328.00 139.40 L328.25 138.96 L328.50 138.55 L328.75 138.17 L329.00 137.81 L329.25 137.49 L329.50 137.19 L329.75 136.92 L330.00 136.67 L330.25 136.46 L330.50 136.26 L330.75 136.09 L331.00 135.93 L331.25 135.80 L331.50 135.68 L331.75 135.57 L332.00 135.49 L332.25 135.42 L332.50 135.37 L332.75 135.34 L333.00 135.33 L333.25 135.33 L333.50 135.35 L333.75 135.39 L334.00 135.44 L334.25 135.50 L334.50 135.57 L334.75 135.66 L335.00 135.75 L335.25 135.86 L335.50 135.98 L335.75 136.12 L336.00 136.27 L336.25 136.44 L336.50 136.63 L336.75 136.83 L337.00 137.05 L337.25 137.29 L337.50 137.55 L337.75 137.81 L338.00 138.09 L338.25 138.38 L338.50 138.67 L338.75 138.98 L339.00 139.30 L339.25 139.63 L339.50 139.97 L339.75 140.31 L340.00 140.67 L340.25 141.04 L340.50 141.42 L340.75 141.81 L341.00 142.22 L341.25 142.63 L341.50 143.05 L341.75 143.48 L342.00 143.92 L342.25 144.37 L342.50 144.82 L342.75 145.28 L343.00 145.75 L343.25 146.21 L343.50 146.69 L343.75 147.16 L344.00 147.64 L344.25 148.13 L344.50 148.62 L344.75 149.11 L345.00 149.61 L345.25 150.12 L345.50 150.62 L345.75 151.14 L346.00 151.65 L346.25 152.18 L346.50 152.71 L346.75 153.24 L347.00 153.78 L347.25 154.32 L347.50 154.87 L347.75 155.43 L348.00 155.99 L348.25 156.56 L348.50 157.13 L348.75 157.71 L349.00 158.29 L349.25 158.88 L349.50 159.48 L349.75 160.08 L350.00 160.68 L350.25 161.29 L350.50 161.91 L350.75 162.53 L351.00 163.15 L351.25 163.78 L351.50 164.41 L351.75 165.04 L352.00 165.69 L352.25 166.33 L352.50 166.99 L352.75 167.65 L353.00 168.33 L353.25 169.01 L353.50 169.71 L353.75 170.42 L354.00 171.14 L354.25 171.87 L354.50 172.61 L354.75 173.36 L355.00 174.13 L355.25 174.90 L355.50 175.68 L355.75 176.46 L356.00 177.26 L356.25 178.06 L356.50 178.87 L356.75 179.69 L357.00 180.52 L357.25 181.36 L357.50 182.22 L357.75 183.11 L358.00 184.01 L358.25 184.94 L358.50 185.90 L358.75 186.90 L359.00 187.93 L359.25 189.00 L359.50 190.12 L359.75 191.28 L360.00 192.48 L360.25 193.72 L360.50 194.99 L360.75 196.29 L361.00 197.60 L361.25 198.92 L361.50 200.25 L361.75 201.57 L362.00 202.90 L362.25 204.23 L362.50 205.56 L362.75 206.89 L363.00 208.22 L363.25 209.54 L363.50 210.87 L363.75 212.20 L364.00 213.53 L364.25 214.86 L364.50 216.19 L364.75 217.51 L365.00 218.84 L365.25 220.17 L365.50 221.50 L365.75 222.83 L366.00 224.16 L366.25 225.49 L366.50 226.81 L366.75 228.14 L367.00 229.47 L367.25 230.80 L367.50 232.13 L367.75 233.46 L368.00 234.78 L368.25 236.11 L368.50 237.44 L368.75 238.77 L369.00 240.10 L369.25 241.43 L369.50 242.76 L369.75 244.09 L370.00 245.42 L370.25 246.76 L370.50 248.10 L370.75 249.47 L371.00 250.85 L371.25 252.25 L371.50 253.68 L371.75 255.14 L372.00 256.62 L372.25 258.13 L372.50 259.67 L372.75 261.23 L373.00 262.81 L373.25 264.42 L373.50 266.04 L373.75 267.69 L374.00 269.35 L374.25 271.03 L374.50 272.73 L374.75 274.44 L375.00 276.16 L375.25 277.90 L375.50 279.66 L375.75 281.44 L376.00 283.24 L376.25 285.06 L376.50 286.90 L376.75 288.75 L377.00 290.62 L377.25 292.49 L377.50 294.36 L377.75 296.23 L378.00 298.10 L378.25 299.95 L378.50 301.78 L378.75 303.59 L379.00 305.37 L379.25 307.13 L379.50 308.87 L379.75 310.59 L380.00 312.29 L380.25 313.97 L380.50 315.64 L380.75 317.30 L381.00 318.96 L381.25 320.62 L381.50 322.28 L381.75 323.94 L382.00 325.61 L382.25 327.31 L382.50 329.03 L382.75 330.81 L383.00 332.66 L383.25 334.62 L383.50 336.71 L383.75 338.95 L384.00 341.32 L384.25 343.76 L384.50 346.21 L384.75 348.60 L385.00 350.85 L385.25 352.93 L385.50 354.81 L385.75 356.51 L386.00 358.04 L386.25 359.42 L386.50 360.68 L386.75 361.83 L387.00 362.88 L387.25 363.84 L387.50 364.73 L387.75 365.55 L388.00 366.32 L388.25 367.03 L388.50 367.69 L388.75 368.29 L389.00 368.85 L389.25 369.34 L389.50 369.78 L389.75 370.15 L390.00 370.47 L390.25 370.72 L390.50 370.91 L390.75 371.02 L391.00 371.06 L391.25 371.02 L391.50 370.91 L391.75 370.72 L392.00 370.47 L392.25 370.15 L392.50 369.77 L392.75 369.33 L393.00 368.83 L393.25 368.26 L393.50 367.62 L393.75 366.90 L394.00 366.10 L394.25 365.22 L394.50 364.24 L394.75 363.16 L395.00 361.93 L395.25 360.55 L395.50 358.98 L395.75 357.20 L396.00 355.23 L396.25 353.08 L396.50 350.80 L396.75 348.41 L397.00 345.97 L397.25 343.49 L397.50 341.00 L397.75 338.50 L398.00 336.00 L398.25 333.50 L398.50 331.00 L398.75 328.50 L399.00 326.00 L399.25 323.51 L399.50 321.02 L399.75 318.54 L400.00 316.09 L400.25 313.67 L400.50 311.31 L400.75 309.02 L401.00 306.81 L401.25 304.70 L401.50 302.69 L401.75 300.78 L402.00 298.97 L402.25 297.25 L402.50 295.60 L402.75 294.02 L403.00 292.49 L403.25 291.00 L403.50 289.55 L403.75 288.12 L404.00 286.73 L404.25 285.35 L404.50 284.01 L404.75 282.69 L405.00 281.40 L405.25 280.14 L405.50 278.88 L405.75 277.63 L406.00 276.37 L406.25 275.10 L406.50 273.80 L406.75 272.46 L407.00 271.07 L407.25 269.63 L407.50 268.13 L407.75 266.58 L408.00 264.99 L408.25 263.37 L408.50 261.72 L408.75 260.06 L409.00 258.40 L409.25 256.72 L409.50 255.05 L409.75 253.38 L410.00 251.70 L410.25 250.03 L410.50 248.35 L410.75 246.68 L411.00 245.01 L411.25 243.34 L411.50 241.67 L411.75 240.00 L412.00 238.33 L412.25 236.67 L412.50 235.00 L412.75 233.34 L413.00 231.67 L413.25 230.01 L413.50 228.34 L413.75 226.68 L414.00 225.02 L414.25 223.37 L414.50 221.72 L414.75 220.09 L415.00 218.47 L415.25 216.89 L415.50 215.33 L415.75 213.81 L416.00 212.32 L416.25 210.87 L416.50 209.45 L416.75 208.06 L417.00 206.70 L417.25 205.37 L417.50 204.07 L417.75 202.79 L418.00 201.53 L418.25 200.29 L418.50 199.08 L418.75 197.88 L419.00 196.71 L419.25 195.57 L419.50 194.44 L419.75 193.34 L420.00 192.26 L420.25 191.21 L420.50 190.19 L420.75 189.18 L421.00 188.21 L421.25 187.26 L421.50 186.33 L421.75 185.43 L422.00 184.56 L422.25 183.71 L422.50 182.87 L422.75 182.06 L423.00 181.26 L423.25 180.47 L423.50 179.69 L423.75 178.92 L424.00 178.16 L424.25 177.40 L424.50 176.65 L424.75 175.91 L425.00 175.17 L425.25 174.45 L425.50 173.73 L425.75 173.03 L426.00 172.33 L426.25 171.64 L426.50 170.97 L426.75 170.30 L427.00 169.65 L427.25 169.00 L427.50 168.36 L427.75 167.73 L428.00 167.10 L428.25 166.48 L428.50 165.86 L428.75 165.24 L429.00 164.63 L429.25 164.02 L429.50 163.41 L429.75 162.81 L430.00 162.21 L430.25 161.62 L430.50 161.04 L430.75 160.46 L431.00 159.89 L431.25 159.33 L431.50 158.77 L431.75 158.23 L432.00 157.69 L432.25 157.15 L432.50 156.62 L432.75 156.09 L433.00 155.57 L433.25 155.05 L433.50 154.53 L433.75 154.02 L434.00 153.51 L434.25 153.01 L434.50 152.50 L434.75 152.01 L435.00 151.51 L435.25 151.02 L435.50 150.53 L435.75 150.05 L436.00 149.57 L436.25 149.09 L436.50 148.61 L436.75 148.14 L437.00 147.67 L437.25 147.20 L437.50 146.73 L437.75 146.27 L438.00 145.81 L438.25 145.35 L438.50 144.90 L438.75 144.46 L439.00 144.03 L439.25 143.61 L439.50 143.20 L439.75 142.80 L440.00 142.41 L440.25 142.03 L440.50 141.67 L440.75 141.31 L441.00 140.96 L441.25 140.62 L441.50 140.28 L441.75 139.94 L442.00 139.61 L442.25 139.27 L442.50 138.94 L442.75 138.61 L443.00 138.28 L443.25 137.96 L443.50 137.63 L443.75 137.30 L444.00 136.98 L444.25 136.65 L444.50 136.33 L444.75 136.01 L445.00 135.68 L445.25 135.36 L445.50 135.04 L445.75 134.72 L446.00 134.39 L446.25 134.07 L446.50 133.75 L446.75 133.43 L447.00 133.11 L447.25 132.79 L447.50 132.47 L447.75 132.15 L448.00 131.84 L448.25 131.52 L448.50 131.21 L448.75 130.89 L449.00 130.58 L449.25 130.28 L449.50 129.97 L449.75 129.67 L450.00 129.37 L450.25 129.07 L450.50 128.78 L450.75 128.49 L451.00 128.20 L451.25 127.91 L451.50 127.63 L451.75 127.35 L452.00 127.07 L452.25 126.79 L452.50 126.51 L452.75 126.24 L453.00 125.97 L453.25 125.70 L453.50 125.43 L453.75 125.17 L454.00 124.90 L454.25 124.64 L454.50 124.39 L454.75 124.13 L455.00 123.88 L455.25 123.64 L455.50 123.39 L455.75 123.15 L456.00 122.92 L456.25 122.68 L456.50 122.45 L456.75 122.23 L457.00 122.00 L457.25 121.78 L457.50 121.56 L457.75 121.35 L458.00 121.13 L458.25 120.92 L458.50 120.72 L458.75 120.51 L459.00 120.31 L459.25 120.10 L459.50 119.91 L459.75 119.71 L460.00 119.51 L460.25 119.32 L460.50 119.13 L460.75 118.94 L461.00 118.75 L461.25 118.56 L461.50 118.38 L461.75 118.20 L462.00 118.02 L462.25 117.84 L462.50 117.67 L462.75 117.49 L463.00 117.32 L463.25 117.16 L463.50 116.99 L463.75 116.83 L464.00 116.67 L464.25 116.52 L464.50 116.36 L464.75 116.21 L465.00 116.06 L465.25 115.92 L465.50 115.78 L465.75 115.63 L466.00 115.49 L466.25 115.36 L466.50 115.22 L466.75 115.08 L467.00 114.95 L467.25 114.82 L467.50 114.69 L467.75 114.56 L468.00 114.43 L468.25 114.30 L468.50 114.18 L468.75 114.05 L469.00 113.93 L469.25 113.81 L469.50 113.69 L469.75 113.58 L470.00 113.46 L470.25 113.35 L470.50 113.24 L470.75 113.13 L471.00 113.02 L471.25 112.91 L471.50 112.80 L471.75 112.69 L472.00 112.59 L472.25 112.48 L472.50 112.38 L472.75 112.27 L473.00 112.17 L473.25 112.07 L473.50 111.97 L473.75 111.87 L474.00 111.77 L474.25 111.67 L474.50 111.58 L474.75 111.48 L475.00 111.39 L475.25 111.30 L475.50 111.21 L475.75 111.12 L476.00 111.04 L476.25 110.95 L476.50 110.87 L476.75 110.79 L477.00 110.71 L477.25 110.63 L477.50 110.55 L477.75 110.47 L478.00 110.39 L478.25 110.32 L478.50 110.24 L478.75 110.17 L479.00 110.09 L479.25 110.02 L479.50 109.94 L479.75 109.87 L480.00 109.80 L480.25 109.72 L480.50 109.65 L480.75 109.58 L481.00 109.51 L481.25 109.44 L481.50 109.37 L481.75 109.30 L482.00 109.23 L482.25 109.16 L482.50 109.09 L482.75 109.02 L483.00 108.96 L483.25 108.89 L483.50 108.82 L483.75 108.76 L484.00 108.69 L484.25 108.63 L484.50 108.56 L484.75 108.50 L485.00 108.44 L485.25 108.38 L485.50 108.32 L485.75 108.25 L486.00 108.19 L486.25 108.13 L486.50 108.08 L486.75 108.02 L487.00 107.96 L487.25 107.90 L487.50 107.85 L487.75 107.79 L488.00 107.74 L488.25 107.69 L488.50 107.64 L488.75 107.59 L489.00 107.55 L489.25 107.50 L489.50 107.46 L489.75 107.42 L490.00 107.38 L490.25 107.35 L490.50 107.31 L490.75 107.28 L491.00 107.25 L491.25 107.22 L491.50 107.19 L491.75 107.16 L492.00 107.13 L492.25 107.11 L492.50 107.08 L492.75 107.06 L493.00 107.04 L493.25 107.01 L493.50 106.99 L493.75 106.98 L494.00 106.96 L494.25 106.94 L494.50 106.93 L494.75 106.91 L495.00 106.90 L495.25 106.89 L495.50 106.89 L495.75 106.89 L496.00 106.89 L496.25 106.90 L496.50 106.91 L496.75 106.93 L497.00 106.95 L497.25 106.98 L497.50 107.01 L497.75 107.04 L498.00 107.08 L498.25 107.11 L498.50 107.15 L498.75 107.19 L499.00 107.23 L499.25 107.27 L499.50 107.31 L499.75 107.34 L500.00 107.38 L500.25 107.42 L500.50 107.46 L500.75 107.50 L501.00 107.54 L501.25 107.58 L501.50 107.62 L501.75 107.66 L502.00 107.70 L502.25 107.74 L502.50 107.78 L502.75 107.82 L503.00 107.86 L503.25 107.90 L503.50 107.94 L503.75 107.99 L504.00 108.03 L504.25 108.07 L504.50 108.11 L504.75 108.15 L505.00 108.19 L505.25 108.22 L505.50 108.26 L505.75 108.29 L506.00 108.32 L506.25 108.34 L506.50 108.36 L506.75 108.35 L507.00 108.33 L507.25 108.30 L507.50 108.24 L507.75 108.16 L508.00 108.06 L508.25 107.95 L508.50 107.82 L508.75 107.69 L509.00 107.54 L509.25 107.39 L509.50 107.24 L509.75 107.09 L510.00 106.95 L510.25 106.80 L510.50 106.67 L510.75 106.54 L511.00 106.41 L511.25 106.30 L511.50 106.18 L511.75 106.06 L512.00 105.95 L512.25 105.83 L512.50 105.72 L512.75 105.60 L513.00 105.49 L513.25 105.38 L513.50 105.27 L513.75 105.16 L514.00 105.06 L514.25 104.96 L514.50 104.86 L514.75 104.77 L515.00 104.69 L515.25 104.62 L515.50 104.56 L515.75 104.50 L516.00 104.46 L516.25 104.44 L516.50 104.44 L516.75 104.45 L517.00 104.49 L517.25 104.54 L517.50 104.62 L517.75 104.71 L518.00 104.81 L518.25 104.93 L518.50 105.05 L518.75 105.19 L519.00 105.33 L519.25 105.47 L519.50 105.61 L519.75 105.75 L520.00 105.88 L520.25 106.02 L520.50 106.16 L520.75 106.30 L521.00 106.44 L521.25 106.59 L521.50 106.76 L521.75 106.93 L522.00 107.10 L522.25 107.29 L522.50 107.47 L522.75 107.66 L523.00 107.84 L523.25 108.02 L523.50 108.18 L523.75 108.34 L524.00 108.48 L524.25 108.60 L524.50 108.70 L524.75 108.77 L525.00 108.82 L525.25 108.85 L525.50 108.84 L525.75 108.81 L526.00 108.75 L526.25 108.67 L526.50 108.56 L526.75 108.43 L527.00 108.29 L527.25 108.14 L527.50 107.97 L527.75 107.79 L528.00 107.61 L528.25 107.42 L528.50 107.23 L528.75 107.04 L529.00 106.85 L529.25 106.66 L529.50 106.48 L529.75 106.29 L530.00 106.11 L530.25 105.92 L530.50 105.74 L530.75 105.55 L531.00 105.36 L531.25 105.17 L531.50 104.98 L531.75 104.79 L532.00 104.60 L532.25 104.41 L532.50 104.23 L532.75 104.05 L533.00 103.88 L533.25 103.71 L533.50 103.54 L533.75 103.39 L534.00 103.24 L534.25 103.10 L534.50 102.97 L534.75 102.85 L535.00 102.74 L535.25 102.64 L535.50 102.55 L535.75 102.47 L536.00 102.40 L536.25 102.34 L536.50 102.28 L536.75 102.23 L537.00 102.19 L537.25 102.15 L537.50 102.11 L537.75 102.09 L538.00 102.06 L538.25 102.04 L538.50 102.02 L538.75 102.01 L539.00 102.00 L539.25 101.98 L539.50 101.97 L539.75 101.96 L540.00 101.95 L540.25 101.94 L540.50 101.92 L540.75 101.91 L541.00 101.89 L541.25 101.87 L541.50 101.86 L541.75 101.84 L542.00 101.83 L542.25 101.81 L542.50 101.80 L542.75 101.79 L543.00 101.77 L543.25 101.76 L543.50 101.75 L543.75 101.75 L544.00 101.74 L544.25 101.74 L544.50 101.73 L544.75 101.73 L545.00 101.74 L545.25 101.74 L545.50 101.75 L545.75 101.75 L546.00 101.76 L546.25 101.78 L546.50 101.79 L546.75 101.81 L547.00 101.83 L547.25 101.86 L547.50 101.89 L547.75 101.92 L548.00 101.96 L548.25 102.01 L548.50 102.06 L548.75 102.12 L549.00 102.19 L549.25 102.26 L549.50 102.34 L549.75 102.43 L550.00 102.52 L550.25 102.62 L550.50 102.73 L550.75 102.84 L551.00 102.96 L551.25 103.09 L551.50 103.22 L551.75 103.36 L552.00 103.51 L552.25 103.66 L552.50 103.83 L552.75 104.00 L553.00 104.19 L553.25 104.37 L553.50 104.56 L553.75 104.75 L554.00 104.93 L554.25 105.10 L554.50 105.27 L554.75 105.42 L555.00 105.57 L555.25 105.70 L555.50 105.83 L555.75 105.96 L556.00 106.08 L556.25 106.20 L556.50 106.32 L556.75 106.44 L557.00 106.56 L557.25 106.67 L557.50 106.80 L557.75 106.92 L558.00 107.05 L558.25 107.18 L558.50 107.32 L558.75 107.47 L559.00 107.62 L559.25 107.78 L559.50 107.95 L559.75 108.12 L560.00 108.30 L560.25 108.48 L560.50 108.67 L560.75 108.86 L561.00 109.06 L561.25 109.26 L561.50 109.45 L561.75 109.65 L562.00 109.85 L562.25 110.05 L562.50 110.24 L562.75 110.43 L563.00 110.62 L563.25 110.81 L563.50 110.99 L563.75 111.16 L564.00 111.33 L564.25 111.49 L564.50 111.65 L564.75 111.80 L565.00 111.94 L565.25 112.07 L565.50 112.18 L565.75 112.29 L566.00 112.38 L566.25 112.45 L566.50 112.50 L566.75 112.52 L567.00 112.53 L567.25 112.50 L567.50 112.44 L567.75 112.36 L568.00 112.24 L568.25 112.10 L568.50 111.94 L568.75 111.76 L569.00 111.57 L569.25 111.36 L569.50 111.14 L569.75 110.91 L570.00 110.67 L570.25 110.42 L570.50 110.16 L570.75 109.89 L571.00 109.61 L571.25 109.32 L571.50 109.01 L571.75 108.71 L572.00 108.39 L572.25 108.08 L572.50 107.78 L572.75 107.48 L573.00 107.19 L573.25 106.91 L573.50 106.66 L573.75 106.42 L574.00 106.20 L574.25 106.00 L574.50 105.83 L574.75 105.68 L575.00 105.55 L575.25 105.43 L575.50 105.34 L575.75 105.27 L576.00 105.21 L576.25 105.18 L576.50 105.16 L576.75 105.17 L577.00 105.20 L577.25 105.27 L577.50 105.36 L577.75 105.48 L578.00 105.64 L578.25 105.84 L578.50 106.08 L578.75 106.36 L579.00 106.68 L579.25 107.03 L579.50 107.43 L579.75 107.85 L580.00 108.31 L580.25 108.79 L580.50 109.28 L580.75 109.79 L581.00 110.31 L581.25 110.84 L581.50 111.36 L581.75 111.88 L582.00 112.39 L582.25 112.89 L582.50 113.38 L582.75 113.86 L583.00 114.33 L583.25 114.79 L583.50 115.24 L583.75 115.68 L584.00 116.11 L584.25 116.52 L584.50 116.91 L584.75 117.29 L585.00 117.63 L585.25 117.95 L585.50 118.23 L585.75 118.46 L586.00 118.65 L586.25 118.77 L586.50 118.83 L586.75 118.81 L587.00 118.72 L587.25 118.56 L587.50 118.33 L587.75 118.03 L588.00 117.69 L588.25 117.29 L588.50 116.86 L588.75 116.39 L589.00 115.90 L589.25 115.38 L589.50 114.83 L589.75 114.27 L590.00 113.68 L590.25 113.08 L590.50 112.46 L590.75 111.83 L591.00 111.20 L591.25 110.58 L591.50 109.97 L591.75 109.38 L592.00 108.82 L592.25 108.28 L592.50 107.76 L592.75 107.27 L593.00 106.80 L593.25 106.34 L593.50 105.91 L593.75 105.49 L594.00 105.10 L594.25 104.73 L594.50 104.39 L594.75 104.07 L595.00 103.78 L595.25 103.51 L595.50 103.26 L595.75 103.03 L596.00 102.81 L596.25 102.61 L596.50 102.43 L596.75 102.25 L597.00 102.09 L597.25 101.95 L597.50 101.82 L597.75 101.70 L598.00 101.60 L598.25 101.50 L598.50 101.42 L598.75 101.35 L599.00 101.29 L599.25 101.22 L599.50 101.16 L599.75 101.10 L600.00 101.05 L600.25 100.99 L600.50 100.94 L600.75 100.88 L601.00 100.83 L601.25 100.78 L601.50 100.74 L601.75 100.69 L602.00 100.65 L602.25 100.61 L602.50 100.57 L602.75 100.54 L603.00 100.51 L603.25 100.48 L603.50 100.46 L603.75 100.44 L604.00 100.42 L604.25 100.40 L604.50 100.39 L604.75 100.38 L605.00 100.37 L605.25 100.36 L605.50 100.35 L605.75 100.34 L606.00 100.33 L606.25 100.32 L606.50 100.31 L606.75 100.31 L607.00 100.30 L607.25 100.29 L607.50 100.29 L607.75 100.28 L608.00 100.28 L608.25 100.28 L608.50 100.27 L608.75 100.27 L609.00 100.27 L609.25 100.27 L609.50 100.27 L609.75 100.28 L610.00 100.28 L610.25 100.28 L610.50 100.29 L610.75 100.30 L611.00 100.30 L611.25 100.31 L611.50 100.32 L611.75 100.32 L612.00 100.33 L612.25 100.34 L612.50 100.34 L612.75 100.35 L613.00 100.36 L613.25 100.37 L613.50 100.38 L613.75 100.39 L614.00 100.40 L614.25 100.41 L614.50 100.43 L614.75 100.45 L615.00 100.47 L615.25 100.49 L615.50 100.52 L615.75 100.55 L616.00 100.58 L616.25 100.62 L616.50 100.66 L616.75 100.70 L617.00 100.75 L617.25 100.80 L617.50 100.86 L617.75 100.92 L618.00 100.98 L618.25 101.04 L618.50 101.11 L618.75 101.17 L619.00 101.24 L619.25 101.30 L619.50 101.37 L619.75 101.43 L620.00 101.50 L620.25 101.57 L620.50 101.63 L620.75 101.70 L621.00 101.76 L621.25 101.83 L621.50 101.89 L621.75 101.96 L622.00 102.02 L622.25 102.09 L622.50 102.16 L622.75 102.22 L623.00 102.29 L623.25 102.35 L623.50 102.42 L623.75 102.49 L624.00 102.55 L624.25 102.62 L624.50 102.68 L624.75 102.75 L625.00 102.82 L625.25 102.89 L625.50 102.96 L625.75 103.04 L626.00 103.12 L626.25 103.22 L626.50 103.33 L626.75 103.44 L627.00 103.57 L627.25 103.71 L627.50 103.86 L627.75 104.01 L628.00 104.17 L628.25 104.34 L628.50 104.51 L628.75 104.68 L629.00 104.86 L629.25 105.05 L629.50 105.24 L629.75 105.45 L630.00 105.69 L630.25 105.94 L630.50 106.22 L630.75 106.52 L631.00 106.84 L631.25 107.19 L631.50 107.57 L631.75 107.96 L632.00 108.38 L632.25 108.84 L632.50 109.33 L632.75 109.87 L633.00 110.46 L633.25 111.12 L633.50 111.83 L633.75 112.60 L634.00 113.43 L634.25 114.31 L634.50 115.24 L634.75 116.22 L635.00 117.25 L635.25 118.34 L635.50 119.47 L635.75 120.67 L636.00 121.92 L636.25 123.25 L636.50 124.64 L636.75 126.11 L637.00 127.64 L637.25 129.23 L637.50 130.88 L637.75 132.57 L638.00 134.29 L638.25 136.05 L638.50 137.83 L638.75 139.64 L639.00 141.47 L639.25 143.32 L639.50 145.19 L639.75 147.09 L640.00 148.99 L640.25 150.92 L640.50 152.85 L640.75 154.80 L641.00 156.77 L641.25 158.77 L641.50 160.83 L641.75 162.97 L642.00 165.22 L642.25 167.61 L642.50 170.21 L642.75 173.06 L643.00 176.24 L643.25 179.78 L643.50 183.72 L643.75 188.04 L644.00 192.72 L644.25 197.69 L644.50 202.87 L644.75 208.18 L645.00 213.53 L645.25 218.84 L645.50 224.02 L645.75 229.00 L646.00 233.72 L646.25 238.17 L646.50 242.34 L646.75 246.29 L647.00 250.07 L647.25 253.80 L647.50 257.57 L647.75 261.48 L648.00 265.61 L648.25 270.00 L648.50 274.66 L648.75 279.52 L649.00 284.49 L649.25 289.44 L649.50 294.27 L649.75 298.84 L650.00 303.06 L650.25 306.84 L650.50 310.12 L650.75 312.91 L651.00 315.26 L651.25 317.24 L651.50 318.93 L651.75 320.40 L652.00 321.69 L652.25 322.81 L652.50 323.74 L652.75 324.48 L653.00 325.01 L653.25 325.34 L653.50 325.47 L653.75 325.41 L654.00 325.17 L654.25 324.73 L654.50 324.08 L654.75 323.25 L655.00 322.24 L655.25 321.07 L655.50 319.71 L655.75 318.11 L656.00 316.16 L656.25 313.78 L656.50 310.90 L656.75 307.51 L657.00 303.71 L657.25 299.63 L657.50 295.42 L657.75 291.16 L658.00 286.93 L658.25 282.69 L658.50 278.44 L658.75 274.12 L659.00 269.69 L659.25 265.14 L659.50 260.44 L659.75 255.60 L660.00 250.62 L660.25 245.53 L660.50 240.36 L660.75 235.13 L661.00 229.87 L661.25 224.61 L661.50 219.37 L661.75 214.16 L662.00 209.00 L662.25 203.88 L662.50 198.84 L662.75 193.88 L663.00 189.04 L663.25 184.36 L663.50 179.90 L663.75 175.72 L664.00 171.86 L664.25 168.36 L664.50 165.21 L664.75 162.37 L665.00 159.78 L665.25 157.38 L665.50 155.10 L665.75 152.92 L666.00 150.81 L666.25 148.76 L666.50 146.77 L666.75 144.86 L667.00 143.01 L667.25 141.24 L667.50 139.53 L667.75 137.87 L668.00 136.28 L668.25 134.76 L668.50 133.31 L668.75 131.93 L669.00 130.64 L669.25 129.44 L669.50 128.32 L669.75 127.28 L670.00 126.29 L670.25 125.36 L670.50 124.46 L670.75 123.60 L671.00 122.77 L671.25 121.97 L671.50 121.20 L671.75 120.46 L672.00 119.74 L672.25 119.05 L672.50 118.37 L672.75 117.70 L673.00 117.05 L673.25 116.40 L673.50 115.77 L673.75 115.14 L674.00 114.54 L674.25 113.96 L674.50 113.40 L674.75 112.86 L675.00 112.35 L675.25 111.87 L675.50 111.41 L675.75 110.96 L676.00 110.53 L676.25 110.10 L676.50 109.69 L676.75 109.28 L677.00 108.89 L677.25 108.50 L677.50 108.11 L677.75 107.74 L678.00 107.36 L678.25 106.99 L678.50 106.63 L678.75 106.27 L679.00 105.92 L679.25 105.59 L679.50 105.29 L679.75 105.03 L680.00 104.82" stroke="#0000ff" stroke-width="3.1" stroke-linejoin="round" stroke-linecap="round"/>
</g>
<g fill="none" stroke="#000" stroke-opacity="0.7" stroke-width="0.85" stroke-linecap="round" stroke-linejoin="round">
<path transform="translate(390.80 22.30)" d="M-81.13 -13.86 L-86.66 0.00 M-81.13 -13.86 L-75.61 0.00 M-84.59 -4.62 L-77.68 -4.62 M-73.54 -9.24 L-69.40 0.00 M-65.25 -9.24 L-69.40 0.00 M-61.80 -5.28 L-53.51 -5.28 L-53.51 -6.60 L-54.20 -7.92 L-54.89 -8.58 L-56.28 -9.24 L-58.35 -9.24 L-59.73 -8.58 L-61.11 -7.26 L-61.80 -5.28 L-61.80 -3.96 L-61.11 -1.98 L-59.73 -0.66 L-58.35 0.00 L-56.28 0.00 L-54.89 -0.66 L-53.51 -1.98 M-48.68 -9.24 L-48.68 0.00 M-48.68 -5.28 L-47.99 -7.26 L-46.61 -8.58 L-45.23 -9.24 L-43.16 -9.24 M-32.11 -9.24 L-32.11 0.00 M-32.11 -7.26 L-33.49 -8.58 L-34.87 -9.24 L-36.94 -9.24 L-38.32 -8.58 L-39.70 -7.26 L-40.39 -5.28 L-40.39 -3.96 L-39.70 -1.98 L-38.32 -0.66 L-36.94 0.00 L-34.87 0.00 L-33.49 -0.66 L-32.11 -1.98 M-18.99 -9.24 L-18.99 1.76 L-19.68 4.39 L-20.37 5.27 L-21.75 6.14 L-23.82 6.14 L-25.20 5.27 M-18.99 -7.26 L-20.37 -8.58 L-21.75 -9.24 L-23.82 -9.24 L-25.20 -8.58 L-26.58 -7.26 L-27.27 -5.28 L-27.27 -3.96 L-26.58 -1.98 L-25.20 -0.66 L-23.82 0.00 L-21.75 0.00 L-20.37 -0.66 L-18.99 -1.98 M-14.16 -5.28 L-5.87 -5.28 L-5.87 -6.60 L-6.56 -7.92 L-7.25 -8.58 L-8.63 -9.24 L-10.70 -9.24 L-12.08 -8.58 L-13.46 -7.26 L-14.16 -5.28 L-14.16 -3.96 L-13.46 -1.98 L-12.08 -0.66 L-10.70 0.00 L-8.63 0.00 L-7.25 -0.66 L-5.87 -1.98 M6.56 -13.86 L6.56 0.00 M6.56 -7.26 L5.18 -8.58 L3.80 -9.24 L1.73 -9.24 L0.35 -8.58 L-1.04 -7.26 L-1.73 -5.28 L-1.73 -3.96 L-1.04 -1.98 L0.35 -0.66 L1.73 0.00 L3.80 0.00 L5.18 -0.66 L6.56 -1.98 M23.13 -9.24 L23.13 6.14 M23.13 -7.26 L24.51 -8.58 L25.89 -9.24 L27.97 -9.24 L29.35 -8.58 L30.73 -7.26 L31.42 -5.28 L31.42 -3.96 L30.73 -1.98 L29.35 -0.66 L27.97 0.00 L25.89 0.00 L24.51 -0.66 L23.13 -1.98 M36.25 -9.24 L36.25 0.00 M36.25 -5.28 L36.94 -7.26 L38.32 -8.58 L39.70 -9.24 L41.78 -9.24 M47.99 -9.24 L46.61 -8.58 L45.23 -7.26 L44.54 -5.28 L44.54 -3.96 L45.23 -1.98 L46.61 -0.66 L47.99 0.00 L50.06 0.00 L51.44 -0.66 L52.82 -1.98 L53.51 -3.96 L53.51 -5.28 L52.82 -7.26 L51.44 -8.58 L50.06 -9.24 L47.99 -9.24 M62.49 -13.86 L61.11 -13.86 L59.73 -13.20 L59.04 -11.22 L59.04 0.00 M56.97 -9.24 L61.80 -9.24 M65.94 -13.86 L66.63 -13.20 L67.32 -13.86 L66.63 -14.52 L65.94 -13.86 M66.63 -9.24 L66.63 0.00 M72.16 -13.86 L72.16 0.00 M76.99 -5.28 L85.28 -5.28 L85.28 -6.60 L84.59 -7.92 L83.90 -8.58 L82.51 -9.24 L80.44 -9.24 L79.06 -8.58 L77.68 -7.26 L76.99 -5.28 L76.99 -3.96 L77.68 -1.98 L79.06 -0.66 L80.44 0.00 L82.51 0.00 L83.90 -0.66 L85.28 -1.98"/>
<path transform="translate(391.20 452.30)" d="M-71.78 -11.66 L-69.03 0.00 M-66.28 -11.66 L-69.03 0.00 M-66.28 -11.66 L-63.53 0.00 M-60.78 -11.66 L-63.53 0.00 M-51.43 -7.77 L-51.43 0.00 M-51.43 -6.11 L-52.53 -7.22 L-53.63 -7.77 L-55.28 -7.77 L-56.38 -7.22 L-57.48 -6.11 L-58.03 -4.44 L-58.03 -3.33 L-57.48 -1.67 L-56.38 -0.56 L-55.28 0.00 L-53.63 0.00 L-52.53 -0.56 L-51.43 -1.67 M-48.13 -7.77 L-44.83 0.00 M-41.53 -7.77 L-44.83 0.00 M-38.78 -4.44 L-32.18 -4.44 L-32.18 -5.55 L-32.73 -6.66 L-33.28 -7.22 L-34.38 -7.77 L-36.03 -7.77 L-37.12 -7.22 L-38.23 -6.11 L-38.78 -4.44 L-38.78 -3.33 L-38.23 -1.67 L-37.12 -0.56 L-36.03 0.00 L-34.38 0.00 L-33.28 -0.56 L-32.18 -1.67 M-28.33 -11.66 L-28.33 0.00 M-24.48 -4.44 L-17.88 -4.44 L-17.88 -5.55 L-18.43 -6.66 L-18.98 -7.22 L-20.08 -7.77 L-21.73 -7.77 L-22.83 -7.22 L-23.93 -6.11 L-24.48 -4.44 L-24.48 -3.33 L-23.93 -1.67 L-22.83 -0.56 L-21.73 0.00 L-20.08 0.00 L-18.98 -0.56 L-17.88 -1.67 M-14.03 -7.77 L-14.03 0.00 M-14.03 -5.55 L-12.38 -7.22 L-11.28 -7.77 L-9.62 -7.77 L-8.53 -7.22 L-7.98 -5.55 L-7.98 0.00 M2.48 -7.77 L2.48 1.11 L1.93 2.78 L1.38 3.33 L0.28 3.89 L-1.38 3.89 L-2.48 3.33 M2.48 -6.11 L1.38 -7.22 L0.28 -7.77 L-1.38 -7.77 L-2.48 -7.22 L-3.58 -6.11 L-4.12 -4.44 L-4.12 -3.33 L-3.58 -1.67 L-2.48 -0.56 L-1.38 0.00 L0.28 0.00 L1.38 -0.56 L2.48 -1.67 M7.43 -11.66 L7.43 -2.22 L7.98 -0.56 L9.08 0.00 L10.18 0.00 M5.78 -7.77 L9.62 -7.77 M13.48 -11.66 L13.48 0.00 M13.48 -5.55 L15.13 -7.22 L16.23 -7.77 L17.88 -7.77 L18.98 -7.22 L19.53 -5.55 L19.53 0.00 M32.73 -13.88 L32.73 3.89 M32.73 -13.88 L36.58 -13.88 M32.73 3.89 L36.58 3.89 M40.43 -7.77 L40.43 0.00 M40.43 -5.55 L42.08 -7.22 L43.18 -7.77 L44.83 -7.77 L45.93 -7.22 L46.48 -5.55 L46.48 0.00 M50.88 -7.77 L50.88 0.00 M50.88 -5.55 L52.53 -7.22 L53.63 -7.77 L55.28 -7.77 L56.38 -7.22 L56.93 -5.55 L56.93 0.00 M56.93 -5.55 L58.58 -7.22 L59.68 -7.77 L61.33 -7.77 L62.43 -7.22 L62.98 -5.55 L62.98 0.00 M70.68 -13.88 L70.68 3.89 M66.83 -13.88 L70.68 -13.88 M66.83 3.89 L70.68 3.89"/>
<path transform="translate(56.00 219.30) rotate(-90)" d="M-70.68 -11.66 L-70.68 0.00 M-70.68 -11.66 L-65.73 -11.66 L-64.08 -11.10 L-63.53 -10.55 L-62.98 -9.44 L-62.98 -8.33 L-63.53 -7.22 L-64.08 -6.66 L-65.73 -6.11 L-70.68 -6.11 M-66.83 -6.11 L-62.98 0.00 M-59.68 -4.44 L-53.08 -4.44 L-53.08 -5.55 L-53.63 -6.66 L-54.18 -7.22 L-55.28 -7.77 L-56.93 -7.77 L-58.03 -7.22 L-59.13 -6.11 L-59.68 -4.44 L-59.68 -3.33 L-59.13 -1.67 L-58.03 -0.56 L-56.93 0.00 L-55.28 0.00 L-54.18 -0.56 L-53.08 -1.67 M-49.23 -11.66 L-49.23 0.00 M-38.78 -7.77 L-38.78 0.00 M-38.78 -6.11 L-39.88 -7.22 L-40.98 -7.77 L-42.62 -7.77 L-43.73 -7.22 L-44.83 -6.11 L-45.38 -4.44 L-45.38 -3.33 L-44.83 -1.67 L-43.73 -0.56 L-42.62 0.00 L-40.98 0.00 L-39.88 -0.56 L-38.78 -1.67 M-33.83 -11.66 L-33.83 -2.22 L-33.28 -0.56 L-32.18 0.00 L-31.08 0.00 M-35.48 -7.77 L-31.63 -7.77 M-28.33 -11.66 L-27.78 -11.10 L-27.23 -11.66 L-27.78 -12.21 L-28.33 -11.66 M-27.78 -7.77 L-27.78 0.00 M-24.48 -7.77 L-21.18 0.00 M-17.88 -7.77 L-21.18 0.00 M-15.13 -4.44 L-8.53 -4.44 L-8.53 -5.55 L-9.08 -6.66 L-9.62 -7.22 L-10.73 -7.77 L-12.38 -7.77 L-13.48 -7.22 L-14.58 -6.11 L-15.13 -4.44 L-15.13 -3.33 L-14.58 -1.67 L-13.48 -0.56 L-12.38 0.00 L-10.73 0.00 L-9.62 -0.56 L-8.53 -1.67 M3.58 -11.66 L4.12 -11.10 L4.68 -11.66 L4.12 -12.21 L3.58 -11.66 M4.12 -7.77 L4.12 0.00 M8.53 -7.77 L8.53 0.00 M8.53 -5.55 L10.18 -7.22 L11.28 -7.77 L12.93 -7.77 L14.03 -7.22 L14.58 -5.55 L14.58 0.00 M19.53 -11.66 L19.53 -2.22 L20.08 -0.56 L21.18 0.00 L22.28 0.00 M17.88 -7.77 L21.73 -7.77 M25.03 -4.44 L31.63 -4.44 L31.63 -5.55 L31.08 -6.66 L30.53 -7.22 L29.43 -7.77 L27.78 -7.77 L26.68 -7.22 L25.58 -6.11 L25.03 -4.44 L25.03 -3.33 L25.58 -1.67 L26.68 -0.56 L27.78 0.00 L29.43 0.00 L30.53 -0.56 L31.63 -1.67 M35.48 -7.77 L35.48 0.00 M35.48 -5.55 L37.12 -7.22 L38.23 -7.77 L39.88 -7.77 L40.98 -7.22 L41.53 -5.55 L41.53 0.00 M51.43 -6.11 L50.88 -7.22 L49.23 -7.77 L47.58 -7.77 L45.93 -7.22 L45.38 -6.11 L45.93 -5.00 L47.03 -4.44 L49.78 -3.89 L50.88 -3.33 L51.43 -2.22 L51.43 -1.67 L50.88 -0.56 L49.23 0.00 L47.58 0.00 L45.93 -0.56 L45.38 -1.67 M54.73 -11.66 L55.28 -11.10 L55.83 -11.66 L55.28 -12.21 L54.73 -11.66 M55.28 -7.77 L55.28 0.00 M60.23 -11.66 L60.23 -2.22 L60.78 -0.56 L61.88 0.00 L62.98 0.00 M58.58 -7.77 L62.43 -7.77 M65.18 -7.77 L68.48 0.00 M71.78 -7.77 L68.48 0.00 L67.38 2.22 L66.28 3.33 L65.18 3.89 L64.62 3.89"/>
<path transform="translate(244.06 430.80)" d="M-22.00 -11.66 L-27.50 -11.66 L-28.05 -6.66 L-27.50 -7.22 L-25.85 -7.77 L-24.20 -7.77 L-22.55 -7.22 L-21.45 -6.11 L-20.90 -4.44 L-20.90 -3.33 L-21.45 -1.67 L-22.55 -0.56 L-24.20 0.00 L-25.85 0.00 L-27.50 -0.56 L-28.05 -1.11 L-28.60 -2.22 M-17.05 -8.88 L-17.05 -9.44 L-16.50 -10.55 L-15.95 -11.10 L-14.85 -11.66 L-12.65 -11.66 L-11.55 -11.10 L-11.00 -10.55 L-10.45 -9.44 L-10.45 -8.33 L-11.00 -7.22 L-12.10 -5.55 L-17.60 0.00 L-9.90 0.00 M-5.50 -11.66 L0.55 -11.66 L-2.75 -7.22 L-1.10 -7.22 L0.00 -6.66 L0.55 -6.11 L1.10 -4.44 L1.10 -3.33 L0.55 -1.67 L-0.55 -0.56 L-2.20 0.00 L-3.85 0.00 L-5.50 -0.56 L-6.05 -1.11 L-6.60 -2.22 M5.50 -1.11 L4.95 -0.56 L5.50 0.00 L6.05 -0.56 L5.50 -1.11 M10.45 -8.88 L10.45 -9.44 L11.00 -10.55 L11.55 -11.10 L12.65 -11.66 L14.85 -11.66 L15.95 -11.10 L16.50 -10.55 L17.05 -9.44 L17.05 -8.33 L16.50 -7.22 L15.40 -5.55 L9.90 0.00 L17.60 0.00 M24.20 -11.66 L22.55 -11.10 L21.45 -9.44 L20.90 -6.66 L20.90 -5.00 L21.45 -2.22 L22.55 -0.56 L24.20 0.00 L25.30 0.00 L26.95 -0.56 L28.05 -2.22 L28.60 -5.00 L28.60 -6.66 L28.05 -9.44 L26.95 -11.10 L25.30 -11.66 L24.20 -11.66"/>
<path transform="translate(400.29 430.80)" d="M-22.00 -11.66 L-27.50 -11.66 L-28.05 -6.66 L-27.50 -7.22 L-25.85 -7.77 L-24.20 -7.77 L-22.55 -7.22 L-21.45 -6.11 L-20.90 -4.44 L-20.90 -3.33 L-21.45 -1.67 L-22.55 -0.56 L-24.20 0.00 L-25.85 0.00 L-27.50 -0.56 L-28.05 -1.11 L-28.60 -2.22 M-17.05 -8.88 L-17.05 -9.44 L-16.50 -10.55 L-15.95 -11.10 L-14.85 -11.66 L-12.65 -11.66 L-11.55 -11.10 L-11.00 -10.55 L-10.45 -9.44 L-10.45 -8.33 L-11.00 -7.22 L-12.10 -5.55 L-17.60 0.00 L-9.90 0.00 M-5.50 -11.66 L0.55 -11.66 L-2.75 -7.22 L-1.10 -7.22 L0.00 -6.66 L0.55 -6.11 L1.10 -4.44 L1.10 -3.33 L0.55 -1.67 L-0.55 -0.56 L-2.20 0.00 L-3.85 0.00 L-5.50 -0.56 L-6.05 -1.11 L-6.60 -2.22 M5.50 -1.11 L4.95 -0.56 L5.50 0.00 L6.05 -0.56 L5.50 -1.11 M11.00 -11.66 L17.05 -11.66 L13.75 -7.22 L15.40 -7.22 L16.50 -6.66 L17.05 -6.11 L17.60 -4.44 L17.60 -3.33 L17.05 -1.67 L15.95 -0.56 L14.30 0.00 L12.65 0.00 L11.00 -0.56 L10.45 -1.11 L9.90 -2.22 M24.20 -11.66 L22.55 -11.10 L21.45 -9.44 L20.90 -6.66 L20.90 -5.00 L21.45 -2.22 L22.55 -0.56 L24.20 0.00 L25.30 0.00 L26.95 -0.56 L28.05 -2.22 L28.60 -5.00 L28.60 -6.66 L28.05 -9.44 L26.95 -11.10 L25.30 -11.66 L24.20 -11.66"/>
<path transform="translate(556.53 430.80)" d="M-22.00 -11.66 L-27.50 -11.66 L-28.05 -6.66 L-27.50 -7.22 L-25.85 -7.77 L-24.20 -7.77 L-22.55 -7.22 L-21.45 -6.11 L-20.90 -4.44 L-20.90 -3.33 L-21.45 -1.67 L-22.55 -0.56 L-24.20 0.00 L-25.85 0.00 L-27.50 -0.56 L-28.05 -1.11 L-28.60 -2.22 M-17.05 -8.88 L-17.05 -9.44 L-16.50 -10.55 L-15.95 -11.10 L-14.85 -11.66 L-12.65 -11.66 L-11.55 -11.10 L-11.00 -10.55 L-10.45 -9.44 L-10.45 -8.33 L-11.00 -7.22 L-12.10 -5.55 L-17.60 0.00 L-9.90 0.00 M-5.50 -11.66 L0.55 -11.66 L-2.75 -7.22 L-1.10 -7.22 L0.00 -6.66 L0.55 -6.11 L1.10 -4.44 L1.10 -3.33 L0.55 -1.67 L-0.55 -0.56 L-2.20 0.00 L-3.85 0.00 L-5.50 -0.56 L-6.05 -1.11 L-6.60 -2.22 M5.50 -1.11 L4.95 -0.56 L5.50 0.00 L6.05 -0.56 L5.50 -1.11 M15.40 -11.66 L9.90 -3.89 L18.15 -3.89 M15.40 -11.66 L15.40 0.00 M24.20 -11.66 L22.55 -11.10 L21.45 -9.44 L20.90 -6.66 L20.90 -5.00 L21.45 -2.22 L22.55 -0.56 L24.20 0.00 L25.30 0.00 L26.95 -0.56 L28.05 -2.22 L28.60 -5.00 L28.60 -6.66 L28.05 -9.44 L26.95 -11.10 L25.30 -11.66 L24.20 -11.66"/>
<path transform="translate(98.85 405.50)" d="M-21.53 -11.66 L-23.10 -11.10 L-24.15 -9.44 L-24.68 -6.66 L-24.68 -5.00 L-24.15 -2.22 L-23.10 -0.56 L-21.53 0.00 L-20.48 0.00 L-18.90 -0.56 L-17.85 -2.22 L-17.32 -5.00 L-17.32 -6.66 L-17.85 -9.44 L-18.90 -11.10 L-20.48 -11.66 L-21.53 -11.66 M-13.12 -1.11 L-13.65 -0.56 L-13.12 0.00 L-12.60 -0.56 L-13.12 -1.11 M-5.78 -11.66 L-7.35 -11.10 L-8.40 -9.44 L-8.93 -6.66 L-8.93 -5.00 L-8.40 -2.22 L-7.35 -0.56 L-5.78 0.00 L-4.73 0.00 L-3.15 -0.56 L-2.10 -2.22 L-1.58 -5.00 L-1.58 -6.66 L-2.10 -9.44 L-3.15 -11.10 L-4.73 -11.66 L-5.78 -11.66"/>
<path transform="translate(98.85 350.84)" d="M-21.53 -11.66 L-23.10 -11.10 L-24.15 -9.44 L-24.68 -6.66 L-24.68 -5.00 L-24.15 -2.22 L-23.10 -0.56 L-21.53 0.00 L-20.48 0.00 L-18.90 -0.56 L-17.85 -2.22 L-17.32 -5.00 L-17.32 -6.66 L-17.85 -9.44 L-18.90 -11.10 L-20.48 -11.66 L-21.53 -11.66 M-13.12 -1.11 L-13.65 -0.56 L-13.12 0.00 L-12.60 -0.56 L-13.12 -1.11 M-8.40 -8.88 L-8.40 -9.44 L-7.88 -10.55 L-7.35 -11.10 L-6.30 -11.66 L-4.20 -11.66 L-3.15 -11.10 L-2.62 -10.55 L-2.10 -9.44 L-2.10 -8.33 L-2.62 -7.22 L-3.68 -5.55 L-8.93 0.00 L-1.58 0.00"/>
<path transform="translate(98.85 288.68)" d="M-21.53 -11.66 L-23.10 -11.10 L-24.15 -9.44 L-24.68 -6.66 L-24.68 -5.00 L-24.15 -2.22 L-23.10 -0.56 L-21.53 0.00 L-20.48 0.00 L-18.90 -0.56 L-17.85 -2.22 L-17.32 -5.00 L-17.32 -6.66 L-17.85 -9.44 L-18.90 -11.10 L-20.48 -11.66 L-21.53 -11.66 M-13.12 -1.11 L-13.65 -0.56 L-13.12 0.00 L-12.60 -0.56 L-13.12 -1.11 M-3.68 -11.66 L-8.93 -3.89 L-1.05 -3.89 M-3.68 -11.66 L-3.68 0.00"/>
<path transform="translate(98.85 226.52)" d="M-21.53 -11.66 L-23.10 -11.10 L-24.15 -9.44 L-24.68 -6.66 L-24.68 -5.00 L-24.15 -2.22 L-23.10 -0.56 L-21.53 0.00 L-20.48 0.00 L-18.90 -0.56 L-17.85 -2.22 L-17.32 -5.00 L-17.32 -6.66 L-17.85 -9.44 L-18.90 -11.10 L-20.48 -11.66 L-21.53 -11.66 M-13.12 -1.11 L-13.65 -0.56 L-13.12 0.00 L-12.60 -0.56 L-13.12 -1.11 M-2.10 -9.99 L-2.62 -11.10 L-4.20 -11.66 L-5.25 -11.66 L-6.83 -11.10 L-7.88 -9.44 L-8.40 -6.66 L-8.40 -3.89 L-7.88 -1.67 L-6.83 -0.56 L-5.25 0.00 L-4.73 0.00 L-3.15 -0.56 L-2.10 -1.67 L-1.58 -3.33 L-1.58 -3.89 L-2.10 -5.55 L-3.15 -6.66 L-4.73 -7.22 L-5.25 -7.22 L-6.83 -6.66 L-7.88 -5.55 L-8.40 -3.89"/>
<path transform="translate(98.85 164.36)" d="M-21.53 -11.66 L-23.10 -11.10 L-24.15 -9.44 L-24.68 -6.66 L-24.68 -5.00 L-24.15 -2.22 L-23.10 -0.56 L-21.53 0.00 L-20.48 0.00 L-18.90 -0.56 L-17.85 -2.22 L-17.32 -5.00 L-17.32 -6.66 L-17.85 -9.44 L-18.90 -11.10 L-20.48 -11.66 L-21.53 -11.66 M-13.12 -1.11 L-13.65 -0.56 L-13.12 0.00 L-12.60 -0.56 L-13.12 -1.11 M-6.30 -11.66 L-7.88 -11.10 L-8.40 -9.99 L-8.40 -8.88 L-7.88 -7.77 L-6.83 -7.22 L-4.73 -6.66 L-3.15 -6.11 L-2.10 -5.00 L-1.58 -3.89 L-1.58 -2.22 L-2.10 -1.11 L-2.62 -0.56 L-4.20 0.00 L-6.30 0.00 L-7.88 -0.56 L-8.40 -1.11 L-8.93 -2.22 L-8.93 -3.89 L-8.40 -5.00 L-7.35 -6.11 L-5.78 -6.66 L-3.68 -7.22 L-2.62 -7.77 L-2.10 -8.88 L-2.10 -9.99 L-2.62 -11.10 L-4.20 -11.66 L-6.30 -11.66"/>
<path transform="translate(98.85 102.20)" d="M-23.10 -9.44 L-22.05 -9.99 L-20.48 -11.66 L-20.48 0.00 M-13.12 -1.11 L-13.65 -0.56 L-13.12 0.00 L-12.60 -0.56 L-13.12 -1.11 M-5.78 -11.66 L-7.35 -11.10 L-8.40 -9.44 L-8.93 -6.66 L-8.93 -5.00 L-8.40 -2.22 L-7.35 -0.56 L-5.78 0.00 L-4.73 0.00 L-3.15 -0.56 L-2.10 -2.22 L-1.58 -5.00 L-1.58 -6.66 L-2.10 -9.44 L-3.15 -11.10 L-4.73 -11.66 L-5.78 -11.66"/>
<path transform="translate(98.85 44.40)" d="M-23.10 -9.44 L-22.05 -9.99 L-20.48 -11.66 L-20.48 0.00 M-13.12 -1.11 L-13.65 -0.56 L-13.12 0.00 L-12.60 -0.56 L-13.12 -1.11 M-8.40 -8.88 L-8.40 -9.44 L-7.88 -10.55 L-7.35 -11.10 L-6.30 -11.66 L-4.20 -11.66 L-3.15 -11.10 L-2.62 -10.55 L-2.10 -9.44 L-2.10 -8.33 L-2.62 -7.22 L-3.68 -5.55 L-8.93 0.00 L-1.58 0.00"/>
<path transform="translate(161.90 234.70)" d="M1.85 -9.70 L1.85 0.00 M1.85 -9.70 L7.85 -9.70 M1.85 -5.08 L5.54 -5.08 M9.70 -3.70 L15.25 -3.70 L15.25 -4.62 L14.78 -5.54 L14.32 -6.01 L13.40 -6.47 L12.01 -6.47 L11.09 -6.01 L10.16 -5.08 L9.70 -3.70 L9.70 -2.77 L10.16 -1.39 L11.09 -0.46 L12.01 0.00 L13.40 0.00 L14.32 -0.46 L15.25 -1.39 M18.48 -9.70 L18.48 0.00"/>
<path transform="translate(161.90 265.70)" d="M0.46 -9.70 L1.39 -9.70 L2.31 -9.24 L2.77 -8.78 L6.47 0.00 M3.70 -6.47 L0.92 0.00 M16.63 -5.54 L24.95 -5.54 M16.63 -2.77 L24.95 -2.77 M41.12 -9.70 L36.50 -9.70 L36.04 -5.54 L36.50 -6.01 L37.88 -6.47 L39.27 -6.47 L40.66 -6.01 L41.58 -5.08 L42.04 -3.70 L42.04 -2.77 L41.58 -1.39 L40.66 -0.46 L39.27 0.00 L37.88 0.00 L36.50 -0.46 L36.04 -0.92 L35.57 -1.85 M45.28 -7.39 L45.28 -7.85 L45.74 -8.78 L46.20 -9.24 L47.12 -9.70 L48.97 -9.70 L49.90 -9.24 L50.36 -8.78 L50.82 -7.85 L50.82 -6.93 L50.36 -6.01 L49.43 -4.62 L44.81 0.00 L51.28 0.00 M54.98 -9.70 L60.06 -9.70 L57.29 -6.01 L58.67 -6.01 L59.60 -5.54 L60.06 -5.08 L60.52 -3.70 L60.52 -2.77 L60.06 -1.39 L59.14 -0.46 L57.75 0.00 L56.36 0.00 L54.98 -0.46 L54.52 -0.92 L54.05 -1.85 M64.22 -0.92 L63.76 -0.46 L64.22 0.00 L64.68 -0.46 L64.22 -0.92 M68.38 -7.39 L68.38 -7.85 L68.84 -8.78 L69.30 -9.24 L70.22 -9.70 L72.07 -9.70 L73.00 -9.24 L73.46 -8.78 L73.92 -7.85 L73.92 -6.93 L73.46 -6.01 L72.53 -4.62 L67.91 0.00 L74.38 0.00 M83.16 -6.47 L82.70 -5.08 L81.77 -4.16 L80.39 -3.70 L79.93 -3.70 L78.54 -4.16 L77.62 -5.08 L77.15 -6.47 L77.15 -6.93 L77.62 -8.32 L78.54 -9.24 L79.93 -9.70 L80.39 -9.70 L81.77 -9.24 L82.70 -8.32 L83.16 -6.47 L83.16 -4.16 L82.70 -1.85 L81.77 -0.46 L80.39 0.00 L79.46 0.00 L78.08 -0.46 L77.62 -1.39 M91.01 -9.70 L86.39 -3.23 L93.32 -3.23 M91.01 -9.70 L91.01 0.00 M103.49 -11.55 L103.49 3.23 M103.49 -11.55 L106.72 -11.55 M103.49 3.23 L106.72 3.23 M109.96 -6.47 L109.96 0.00 M109.96 -4.62 L111.34 -6.01 L112.27 -6.47 L113.65 -6.47 L114.58 -6.01 L115.04 -4.62 L115.04 0.00 M118.73 -6.47 L118.73 0.00 M118.73 -4.62 L120.12 -6.01 L121.04 -6.47 L122.43 -6.47 L123.35 -6.01 L123.82 -4.62 L123.82 0.00 M123.82 -4.62 L125.20 -6.01 L126.13 -6.47 L127.51 -6.47 L128.44 -6.01 L128.90 -4.62 L128.90 0.00 M135.37 -11.55 L135.37 3.23 M132.13 -11.55 L135.37 -11.55 M132.13 3.23 L135.37 3.23"/>
<path transform="translate(161.90 296.70)" d="M0.92 -6.47 L1.85 -6.47 L2.77 -5.54 L5.54 2.31 L6.47 3.23 L7.39 3.23 M7.85 -6.47 L7.39 -5.54 L6.47 -4.16 L1.85 0.92 L0.92 2.31 L0.46 3.23 M17.56 -5.54 L25.87 -5.54 M17.56 -2.77 L25.87 -2.77 M44.35 -7.39 L44.35 -7.85 L44.81 -8.78 L45.28 -9.24 L46.20 -9.70 L48.05 -9.70 L48.97 -9.24 L49.43 -8.78 L49.90 -7.85 L49.90 -6.93 L49.43 -6.01 L48.51 -4.62 L43.89 0.00 L50.36 0.00 M54.05 -0.92 L53.59 -0.46 L54.05 0.00 L54.52 -0.46 L54.05 -0.92 M63.76 -6.47 L63.29 -5.08 L62.37 -4.16 L60.98 -3.70 L60.52 -3.70 L59.14 -4.16 L58.21 -5.08 L57.75 -6.47 L57.75 -6.93 L58.21 -8.32 L59.14 -9.24 L60.52 -9.70 L60.98 -9.70 L62.37 -9.24 L63.29 -8.32 L63.76 -6.47 L63.76 -4.16 L63.29 -1.85 L62.37 -0.46 L60.98 0.00 L60.06 0.00 L58.67 -0.46 L58.21 -1.39 M71.61 -9.70 L66.99 -3.23 L73.92 -3.23 M71.61 -9.70 L71.61 0.00 M79.00 -9.70 L77.62 -9.24 L76.69 -7.85 L76.23 -5.54 L76.23 -4.16 L76.69 -1.85 L77.62 -0.46 L79.00 0.00 L79.93 0.00 L81.31 -0.46 L82.24 -1.85 L82.70 -4.16 L82.70 -5.54 L82.24 -7.85 L81.31 -9.24 L79.93 -9.70 L79.00 -9.70 M93.32 -11.55 L93.32 3.23 M93.32 -11.55 L96.56 -11.55 M93.32 3.23 L96.56 3.23 M99.33 -3.70 L104.87 -3.70 L104.87 -4.62 L104.41 -5.54 L103.95 -6.01 L103.03 -6.47 L101.64 -6.47 L100.72 -6.01 L99.79 -5.08 L99.33 -3.70 L99.33 -2.77 L99.79 -1.39 L100.72 -0.46 L101.64 0.00 L103.03 0.00 L103.95 -0.46 L104.87 -1.39 M106.72 -9.70 L110.42 0.00 M114.11 -9.70 L110.42 0.00 M119.20 -11.55 L119.20 3.23 M115.96 -11.55 L119.20 -11.55 M115.96 3.23 L119.20 3.23"/>
<path transform="translate(161.90 327.70)" d="M1.85 -9.70 L1.85 0.00 M7.39 -6.47 L6.47 -6.01 L5.54 -5.08 L5.08 -3.70 L5.08 -2.77 L5.54 -1.39 L6.47 -0.46 L7.39 0.00 L8.78 0.00 L9.70 -0.46 L10.63 -1.39 L11.09 -2.77 L11.09 -3.70 L10.63 -5.08 L9.70 -6.01 L8.78 -6.47 L7.39 -6.47 M19.40 -6.47 L19.40 0.92 L18.94 2.31 L18.48 2.77 L17.56 3.23 L16.17 3.23 L15.25 2.77 M19.40 -5.08 L18.48 -6.01 L17.56 -6.47 L16.17 -6.47 L15.25 -6.01 L14.32 -5.08 L13.86 -3.70 L13.86 -2.77 L14.32 -1.39 L15.25 -0.46 L16.17 0.00 L17.56 0.00 L18.48 -0.46 L19.40 -1.39 M35.57 -6.47 L35.57 0.92 L35.11 2.31 L34.65 2.77 L33.73 3.23 L32.34 3.23 L31.42 2.77 M35.57 -5.08 L34.65 -6.01 L33.73 -6.47 L32.34 -6.47 L31.42 -6.01 L30.49 -5.08 L30.03 -3.70 L30.03 -2.77 L30.49 -1.39 L31.42 -0.46 L32.34 0.00 L33.73 0.00 L34.65 -0.46 L35.57 -1.39 M42.04 -9.70 L41.12 -9.70 L40.19 -9.24 L39.73 -7.85 L39.73 0.00 M38.35 -6.47 L41.58 -6.47 M52.21 -5.54 L60.52 -5.54 M52.21 -2.77 L60.52 -2.77 M71.61 -4.16 L79.93 -4.16 M85.93 -9.70 L84.55 -9.24 L83.62 -7.85 L83.16 -5.54 L83.16 -4.16 L83.62 -1.85 L84.55 -0.46 L85.93 0.00 L86.86 0.00 L88.24 -0.46 L89.17 -1.85 L89.63 -4.16 L89.63 -5.54 L89.17 -7.85 L88.24 -9.24 L86.86 -9.70 L85.93 -9.70 M93.32 -0.92 L92.86 -0.46 L93.32 0.00 L93.79 -0.46 L93.32 -0.92 M99.79 -9.70 L98.41 -9.24 L97.48 -7.85 L97.02 -5.54 L97.02 -4.16 L97.48 -1.85 L98.41 -0.46 L99.79 0.00 L100.72 0.00 L102.10 -0.46 L103.03 -1.85 L103.49 -4.16 L103.49 -5.54 L103.03 -7.85 L102.10 -9.24 L100.72 -9.70 L99.79 -9.70 M112.27 -8.32 L111.80 -9.24 L110.42 -9.70 L109.49 -9.70 L108.11 -9.24 L107.18 -7.85 L106.72 -5.54 L106.72 -3.23 L107.18 -1.39 L108.11 -0.46 L109.49 0.00 L109.96 0.00 L111.34 -0.46 L112.27 -1.39 L112.73 -2.77 L112.73 -3.23 L112.27 -4.62 L111.34 -5.54 L109.96 -6.01 L109.49 -6.01 L108.11 -5.54 L107.18 -4.62 L106.72 -3.23 M118.27 -9.70 L116.89 -9.24 L115.96 -7.85 L115.50 -5.54 L115.50 -4.16 L115.96 -1.85 L116.89 -0.46 L118.27 0.00 L119.20 0.00 L120.58 -0.46 L121.51 -1.85 L121.97 -4.16 L121.97 -5.54 L121.51 -7.85 L120.58 -9.24 L119.20 -9.70 L118.27 -9.70"/>
<path transform="translate(161.90 358.70)" d="M1.85 -9.70 L1.85 0.00 M7.39 -6.47 L6.47 -6.01 L5.54 -5.08 L5.08 -3.70 L5.08 -2.77 L5.54 -1.39 L6.47 -0.46 L7.39 0.00 L8.78 0.00 L9.70 -0.46 L10.63 -1.39 L11.09 -2.77 L11.09 -3.70 L10.63 -5.08 L9.70 -6.01 L8.78 -6.47 L7.39 -6.47 M19.40 -6.47 L19.40 0.92 L18.94 2.31 L18.48 2.77 L17.56 3.23 L16.17 3.23 L15.25 2.77 M19.40 -5.08 L18.48 -6.01 L17.56 -6.47 L16.17 -6.47 L15.25 -6.01 L14.32 -5.08 L13.86 -3.70 L13.86 -2.77 L14.32 -1.39 L15.25 -0.46 L16.17 0.00 L17.56 0.00 L18.48 -0.46 L19.40 -1.39 M34.65 -6.01 L33.73 -6.47 L32.34 -6.47 L31.42 -6.01 L30.49 -5.08 L30.03 -3.70 L30.03 -2.31 L30.49 -0.92 L30.95 -0.46 L31.88 0.00 L33.26 0.00 L34.19 -0.46 M30.03 -3.23 L33.73 -3.23 M45.28 -5.54 L53.59 -5.54 M45.28 -2.77 L53.59 -2.77 M78.08 -9.70 L73.46 0.00 M71.61 -9.70 L78.08 -9.70 M81.77 -0.92 L81.31 -0.46 L81.77 0.00 L82.24 -0.46 L81.77 -0.92 M90.09 -9.70 L85.47 -3.23 L92.40 -3.23 M90.09 -9.70 L90.09 0.00 M96.10 -7.85 L97.02 -8.32 L98.41 -9.70 L98.41 0.00 M106.72 -9.70 L105.34 -9.24 L104.41 -7.85 L103.95 -5.54 L103.95 -4.16 L104.41 -1.85 L105.34 -0.46 L106.72 0.00 L107.65 0.00 L109.03 -0.46 L109.96 -1.85 L110.42 -4.16 L110.42 -5.54 L109.96 -7.85 L109.03 -9.24 L107.65 -9.70 L106.72 -9.70"/>
</g>
</svg>
</body></html>
